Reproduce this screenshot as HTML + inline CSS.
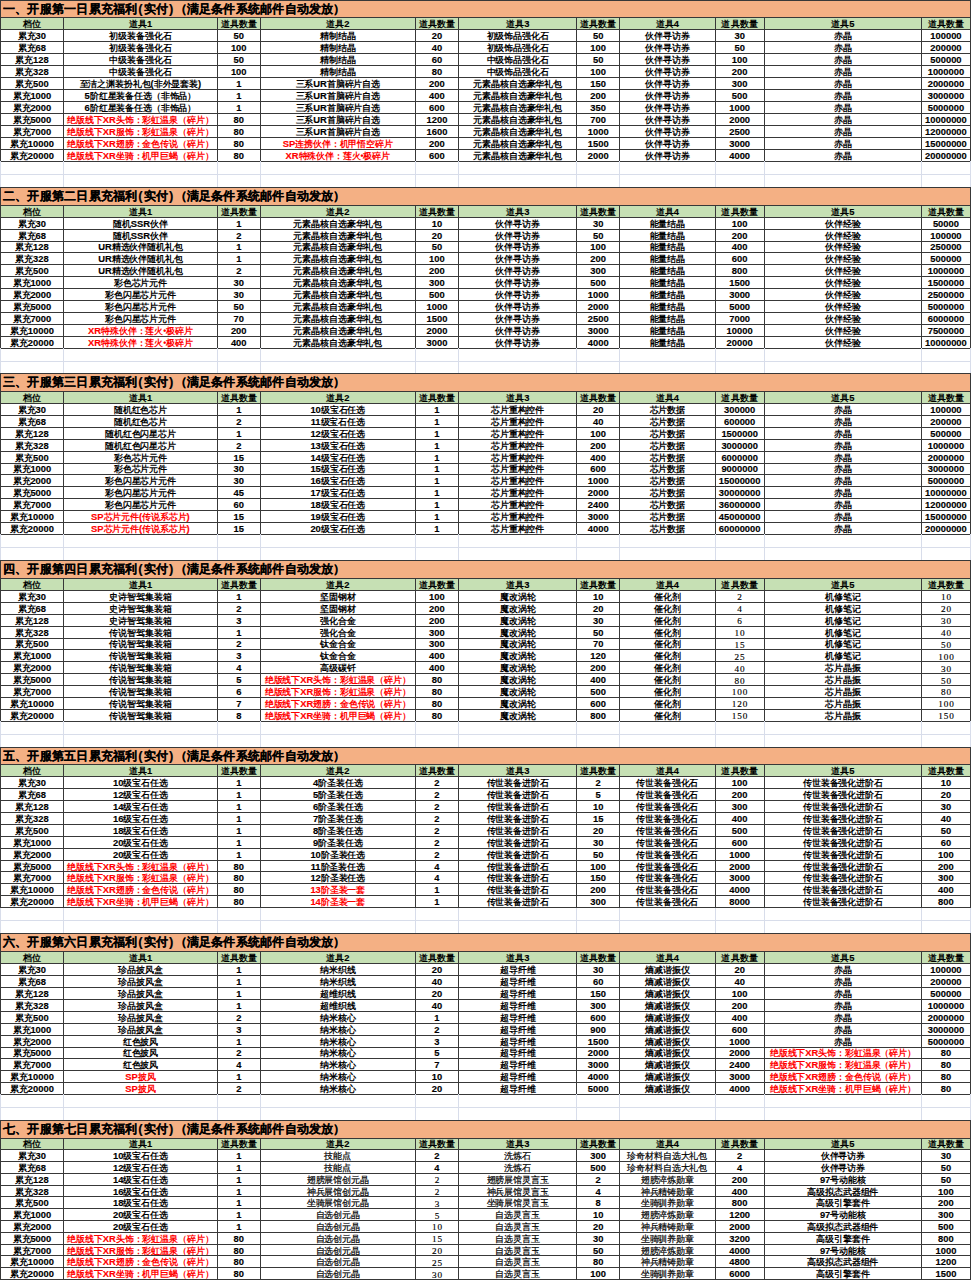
<!DOCTYPE html>
<html><head><meta charset="utf-8"><style>
html,body{margin:0;padding:0;background:#fff;}
#wrap{position:relative;width:971px;height:1280px;overflow:hidden;font-family:"Liberation Sans",sans-serif;}
.title{position:absolute;left:0;width:971px;background:#F4B084;font-weight:bold;font-size:12px;letter-spacing:0.22px;color:#000;white-space:nowrap;}
.title span{position:absolute;left:3.0px;height:0;line-height:0;-webkit-text-stroke:0.15px #000;}
.title b{padding:0 0.9px;font-size:13px;}
.hbg{position:absolute;left:0;width:971px;background:#C6E0B4;}
.c{position:absolute;height:0;line-height:0;text-align:center;white-space:nowrap;font-weight:bold;font-size:8.6px;letter-spacing:-0.13px;color:#000;}
.c.h{letter-spacing:0.1px;}
.c i{font-style:normal;font-size:9.4px;letter-spacing:0;-webkit-text-stroke:0.15px currentColor;}
.c.r{color:#FF0000;}
.c.s{font-family:"Liberation Serif",serif;font-weight:normal;font-size:9.2px;letter-spacing:0.9px;text-indent:0.9px;-webkit-text-stroke:0.15px #000;}
.hl{position:absolute;left:0;width:971px;height:1px;background:#383838;}
.gl{position:absolute;left:0;width:971px;height:1px;background:#D8DDEA;}
.vl{position:absolute;width:1px;background:#383838;}
.vg{position:absolute;width:1px;background:#D8DDEA;}
.c.n{font-weight:normal;-webkit-text-stroke:0.2px currentColor;}

</style></head><body>
<div id="wrap">
<div class="title" style="top:0.00px;height:17.30px"><span style="top:8.65px">一、开服第一日累充福利<b>(</b>实付<b>)</b>（满足条件系统邮件自动发放）</span></div>
<div class="hbg" style="top:17.30px;height:11.95px"></div>
<div class="c h" style="left:0.50px;width:62.90px;top:24.07px">档位</div>
<div class="c h" style="left:63.40px;width:154.00px;top:24.07px">道具<i>1</i></div>
<div class="c h" style="left:217.40px;width:42.70px;top:24.07px">道具数量</div>
<div class="c h" style="left:260.10px;width:155.40px;top:24.07px">道具<i>2</i></div>
<div class="c h" style="left:415.50px;width:42.90px;top:24.07px">道具数量</div>
<div class="c h" style="left:458.40px;width:118.50px;top:24.07px">道具<i>3</i></div>
<div class="c h" style="left:576.90px;width:42.60px;top:24.07px">道具数量</div>
<div class="c h" style="left:619.50px;width:95.60px;top:24.07px">道具<i>4</i></div>
<div class="c h" style="left:715.10px;width:49.10px;top:24.07px">道具数量</div>
<div class="c h" style="left:764.20px;width:157.30px;top:24.07px">道具<i>5</i></div>
<div class="c h" style="left:921.50px;width:48.90px;top:24.07px">道具数量</div>
<div class="c" style="left:0.50px;width:62.90px;top:36.02px">累充<i>30</i></div>
<div class="c" style="left:63.40px;width:154.00px;top:36.02px">初级装备强化石</div>
<div class="c" style="left:217.40px;width:42.70px;top:36.02px"><i>50</i></div>
<div class="c" style="left:260.10px;width:155.40px;top:36.02px">精制结晶</div>
<div class="c" style="left:415.50px;width:42.90px;top:36.02px"><i>20</i></div>
<div class="c" style="left:458.40px;width:118.50px;top:36.02px">初级饰品强化石</div>
<div class="c" style="left:576.90px;width:42.60px;top:36.02px"><i>50</i></div>
<div class="c" style="left:619.50px;width:95.60px;top:36.02px">伙伴寻访券</div>
<div class="c" style="left:715.10px;width:49.10px;top:36.02px"><i>30</i></div>
<div class="c" style="left:764.20px;width:157.30px;top:36.02px">赤晶</div>
<div class="c" style="left:921.50px;width:48.90px;top:36.02px"><i>100000</i></div>
<div class="c" style="left:0.50px;width:62.90px;top:47.97px">累充<i>68</i></div>
<div class="c" style="left:63.40px;width:154.00px;top:47.97px">初级装备强化石</div>
<div class="c" style="left:217.40px;width:42.70px;top:47.97px"><i>100</i></div>
<div class="c" style="left:260.10px;width:155.40px;top:47.97px">精制结晶</div>
<div class="c" style="left:415.50px;width:42.90px;top:47.97px"><i>40</i></div>
<div class="c" style="left:458.40px;width:118.50px;top:47.97px">初级饰品强化石</div>
<div class="c" style="left:576.90px;width:42.60px;top:47.97px"><i>100</i></div>
<div class="c" style="left:619.50px;width:95.60px;top:47.97px">伙伴寻访券</div>
<div class="c" style="left:715.10px;width:49.10px;top:47.97px"><i>50</i></div>
<div class="c" style="left:764.20px;width:157.30px;top:47.97px">赤晶</div>
<div class="c" style="left:921.50px;width:48.90px;top:47.97px"><i>200000</i></div>
<div class="c" style="left:0.50px;width:62.90px;top:59.92px">累充<i>128</i></div>
<div class="c" style="left:63.40px;width:154.00px;top:59.92px">中级装备强化石</div>
<div class="c" style="left:217.40px;width:42.70px;top:59.92px"><i>50</i></div>
<div class="c" style="left:260.10px;width:155.40px;top:59.92px">精制结晶</div>
<div class="c" style="left:415.50px;width:42.90px;top:59.92px"><i>60</i></div>
<div class="c" style="left:458.40px;width:118.50px;top:59.92px">中级饰品强化石</div>
<div class="c" style="left:576.90px;width:42.60px;top:59.92px"><i>50</i></div>
<div class="c" style="left:619.50px;width:95.60px;top:59.92px">伙伴寻访券</div>
<div class="c" style="left:715.10px;width:49.10px;top:59.92px"><i>100</i></div>
<div class="c" style="left:764.20px;width:157.30px;top:59.92px">赤晶</div>
<div class="c" style="left:921.50px;width:48.90px;top:59.92px"><i>500000</i></div>
<div class="c" style="left:0.50px;width:62.90px;top:71.87px">累充<i>328</i></div>
<div class="c" style="left:63.40px;width:154.00px;top:71.87px">中级装备强化石</div>
<div class="c" style="left:217.40px;width:42.70px;top:71.87px"><i>100</i></div>
<div class="c" style="left:260.10px;width:155.40px;top:71.87px">精制结晶</div>
<div class="c" style="left:415.50px;width:42.90px;top:71.87px"><i>80</i></div>
<div class="c" style="left:458.40px;width:118.50px;top:71.87px">中级饰品强化石</div>
<div class="c" style="left:576.90px;width:42.60px;top:71.87px"><i>100</i></div>
<div class="c" style="left:619.50px;width:95.60px;top:71.87px">伙伴寻访券</div>
<div class="c" style="left:715.10px;width:49.10px;top:71.87px"><i>200</i></div>
<div class="c" style="left:764.20px;width:157.30px;top:71.87px">赤晶</div>
<div class="c" style="left:921.50px;width:48.90px;top:71.87px"><i>1000000</i></div>
<div class="c" style="left:0.50px;width:62.90px;top:83.82px">累充<i>500</i></div>
<div class="c" style="left:63.40px;width:154.00px;top:83.82px">至洁之渊装扮礼包<i>(</i>非外显套装<i>)</i></div>
<div class="c" style="left:217.40px;width:42.70px;top:83.82px"><i>1</i></div>
<div class="c" style="left:260.10px;width:155.40px;top:83.82px">三系<i>UR</i>首脑碎片自选</div>
<div class="c" style="left:415.50px;width:42.90px;top:83.82px"><i>200</i></div>
<div class="c" style="left:458.40px;width:118.50px;top:83.82px">元素晶核自选豪华礼包</div>
<div class="c" style="left:576.90px;width:42.60px;top:83.82px"><i>150</i></div>
<div class="c" style="left:619.50px;width:95.60px;top:83.82px">伙伴寻访券</div>
<div class="c" style="left:715.10px;width:49.10px;top:83.82px"><i>300</i></div>
<div class="c" style="left:764.20px;width:157.30px;top:83.82px">赤晶</div>
<div class="c" style="left:921.50px;width:48.90px;top:83.82px"><i>2000000</i></div>
<div class="c" style="left:0.50px;width:62.90px;top:95.77px">累充<i>1000</i></div>
<div class="c" style="left:63.40px;width:154.00px;top:95.77px"><i>5</i>阶红星装备任选（非饰品）</div>
<div class="c" style="left:217.40px;width:42.70px;top:95.77px"><i>1</i></div>
<div class="c" style="left:260.10px;width:155.40px;top:95.77px">三系<i>UR</i>首脑碎片自选</div>
<div class="c" style="left:415.50px;width:42.90px;top:95.77px"><i>400</i></div>
<div class="c" style="left:458.40px;width:118.50px;top:95.77px">元素晶核自选豪华礼包</div>
<div class="c" style="left:576.90px;width:42.60px;top:95.77px"><i>200</i></div>
<div class="c" style="left:619.50px;width:95.60px;top:95.77px">伙伴寻访券</div>
<div class="c" style="left:715.10px;width:49.10px;top:95.77px"><i>500</i></div>
<div class="c" style="left:764.20px;width:157.30px;top:95.77px">赤晶</div>
<div class="c" style="left:921.50px;width:48.90px;top:95.77px"><i>3000000</i></div>
<div class="c" style="left:0.50px;width:62.90px;top:107.72px">累充<i>2000</i></div>
<div class="c" style="left:63.40px;width:154.00px;top:107.72px"><i>6</i>阶红星装备任选（非饰品）</div>
<div class="c" style="left:217.40px;width:42.70px;top:107.72px"><i>1</i></div>
<div class="c" style="left:260.10px;width:155.40px;top:107.72px">三系<i>UR</i>首脑碎片自选</div>
<div class="c" style="left:415.50px;width:42.90px;top:107.72px"><i>600</i></div>
<div class="c" style="left:458.40px;width:118.50px;top:107.72px">元素晶核自选豪华礼包</div>
<div class="c" style="left:576.90px;width:42.60px;top:107.72px"><i>350</i></div>
<div class="c" style="left:619.50px;width:95.60px;top:107.72px">伙伴寻访券</div>
<div class="c" style="left:715.10px;width:49.10px;top:107.72px"><i>1000</i></div>
<div class="c" style="left:764.20px;width:157.30px;top:107.72px">赤晶</div>
<div class="c" style="left:921.50px;width:48.90px;top:107.72px"><i>5000000</i></div>
<div class="c" style="left:0.50px;width:62.90px;top:119.67px">累充<i>5000</i></div>
<div class="c r" style="left:63.40px;width:154.00px;top:119.67px">绝版线下<i>XR</i>头饰：彩虹温泉（碎片）</div>
<div class="c" style="left:217.40px;width:42.70px;top:119.67px"><i>80</i></div>
<div class="c" style="left:260.10px;width:155.40px;top:119.67px">三系<i>UR</i>首脑碎片自选</div>
<div class="c" style="left:415.50px;width:42.90px;top:119.67px"><i>1200</i></div>
<div class="c" style="left:458.40px;width:118.50px;top:119.67px">元素晶核自选豪华礼包</div>
<div class="c" style="left:576.90px;width:42.60px;top:119.67px"><i>700</i></div>
<div class="c" style="left:619.50px;width:95.60px;top:119.67px">伙伴寻访券</div>
<div class="c" style="left:715.10px;width:49.10px;top:119.67px"><i>2000</i></div>
<div class="c" style="left:764.20px;width:157.30px;top:119.67px">赤晶</div>
<div class="c" style="left:921.50px;width:48.90px;top:119.67px"><i>10000000</i></div>
<div class="c" style="left:0.50px;width:62.90px;top:131.62px">累充<i>7000</i></div>
<div class="c r" style="left:63.40px;width:154.00px;top:131.62px">绝版线下<i>XR</i>服饰：彩虹温泉（碎片）</div>
<div class="c" style="left:217.40px;width:42.70px;top:131.62px"><i>80</i></div>
<div class="c" style="left:260.10px;width:155.40px;top:131.62px">三系<i>UR</i>首脑碎片自选</div>
<div class="c" style="left:415.50px;width:42.90px;top:131.62px"><i>1600</i></div>
<div class="c" style="left:458.40px;width:118.50px;top:131.62px">元素晶核自选豪华礼包</div>
<div class="c" style="left:576.90px;width:42.60px;top:131.62px"><i>1000</i></div>
<div class="c" style="left:619.50px;width:95.60px;top:131.62px">伙伴寻访券</div>
<div class="c" style="left:715.10px;width:49.10px;top:131.62px"><i>2500</i></div>
<div class="c" style="left:764.20px;width:157.30px;top:131.62px">赤晶</div>
<div class="c" style="left:921.50px;width:48.90px;top:131.62px"><i>12000000</i></div>
<div class="c" style="left:0.50px;width:62.90px;top:143.57px">累充<i>10000</i></div>
<div class="c r" style="left:63.40px;width:154.00px;top:143.57px">绝版线下<i>XR</i>翅膀：金色传说（碎片）</div>
<div class="c" style="left:217.40px;width:42.70px;top:143.57px"><i>80</i></div>
<div class="c r" style="left:260.10px;width:155.40px;top:143.57px"><i>SP</i>连携伙伴：机甲悟空碎片</div>
<div class="c" style="left:415.50px;width:42.90px;top:143.57px"><i>200</i></div>
<div class="c" style="left:458.40px;width:118.50px;top:143.57px">元素晶核自选豪华礼包</div>
<div class="c" style="left:576.90px;width:42.60px;top:143.57px"><i>1500</i></div>
<div class="c" style="left:619.50px;width:95.60px;top:143.57px">伙伴寻访券</div>
<div class="c" style="left:715.10px;width:49.10px;top:143.57px"><i>3000</i></div>
<div class="c" style="left:764.20px;width:157.30px;top:143.57px">赤晶</div>
<div class="c" style="left:921.50px;width:48.90px;top:143.57px"><i>15000000</i></div>
<div class="c" style="left:0.50px;width:62.90px;top:155.52px">累充<i>20000</i></div>
<div class="c r" style="left:63.40px;width:154.00px;top:155.52px">绝版线下<i>XR</i>坐骑：机甲巨蝎（碎片）</div>
<div class="c" style="left:217.40px;width:42.70px;top:155.52px"><i>80</i></div>
<div class="c r" style="left:260.10px;width:155.40px;top:155.52px"><i>XR</i>特殊伙伴：莲火•极碎片</div>
<div class="c" style="left:415.50px;width:42.90px;top:155.52px"><i>600</i></div>
<div class="c" style="left:458.40px;width:118.50px;top:155.52px">元素晶核自选豪华礼包</div>
<div class="c" style="left:576.90px;width:42.60px;top:155.52px"><i>2000</i></div>
<div class="c" style="left:619.50px;width:95.60px;top:155.52px">伙伴寻访券</div>
<div class="c" style="left:715.10px;width:49.10px;top:155.52px"><i>4000</i></div>
<div class="c" style="left:764.20px;width:157.30px;top:155.52px">赤晶</div>
<div class="c" style="left:921.50px;width:48.90px;top:155.52px"><i>20000000</i></div>
<div class="hl" style="top:-0.20px"></div>
<div class="hl" style="top:17.10px"></div>
<div class="hl" style="top:29.05px"></div>
<div class="hl" style="top:41.00px"></div>
<div class="hl" style="top:52.95px"></div>
<div class="hl" style="top:64.90px"></div>
<div class="hl" style="top:76.85px"></div>
<div class="hl" style="top:88.80px"></div>
<div class="hl" style="top:100.75px"></div>
<div class="hl" style="top:112.70px"></div>
<div class="hl" style="top:124.65px"></div>
<div class="hl" style="top:136.60px"></div>
<div class="hl" style="top:148.55px"></div>
<div class="hl" style="top:160.50px"></div>
<div class="gl" style="top:174.30px"></div>
<div class="vl" style="left:0.00px;top:17.30px;height:143.40px"></div>
<div class="vg" style="left:0.00px;top:160.70px;height:26.60px"></div>
<div class="vl" style="left:62.90px;top:17.30px;height:143.40px"></div>
<div class="vg" style="left:62.90px;top:160.70px;height:26.60px"></div>
<div class="vl" style="left:216.90px;top:17.30px;height:143.40px"></div>
<div class="vg" style="left:216.90px;top:160.70px;height:26.60px"></div>
<div class="vl" style="left:259.60px;top:17.30px;height:143.40px"></div>
<div class="vg" style="left:259.60px;top:160.70px;height:26.60px"></div>
<div class="vl" style="left:415.00px;top:17.30px;height:143.40px"></div>
<div class="vg" style="left:415.00px;top:160.70px;height:26.60px"></div>
<div class="vl" style="left:457.90px;top:17.30px;height:143.40px"></div>
<div class="vg" style="left:457.90px;top:160.70px;height:26.60px"></div>
<div class="vl" style="left:576.40px;top:17.30px;height:143.40px"></div>
<div class="vg" style="left:576.40px;top:160.70px;height:26.60px"></div>
<div class="vl" style="left:619.00px;top:17.30px;height:143.40px"></div>
<div class="vg" style="left:619.00px;top:160.70px;height:26.60px"></div>
<div class="vl" style="left:714.60px;top:17.30px;height:143.40px"></div>
<div class="vg" style="left:714.60px;top:160.70px;height:26.60px"></div>
<div class="vl" style="left:763.70px;top:17.30px;height:143.40px"></div>
<div class="vg" style="left:763.70px;top:160.70px;height:26.60px"></div>
<div class="vl" style="left:921.00px;top:17.30px;height:143.40px"></div>
<div class="vg" style="left:921.00px;top:160.70px;height:26.60px"></div>
<div class="vl" style="left:969.90px;top:17.30px;height:143.40px"></div>
<div class="vg" style="left:969.90px;top:160.70px;height:26.60px"></div>
<div class="vl" style="left:0px;top:0.00px;height:17.30px"></div>
<div class="vl" style="left:969.90px;top:0.00px;height:17.30px"></div>
<div class="title" style="top:187.30px;height:17.70px"><span style="top:8.85px">二、开服第二日累充福利<b>(</b>实付<b>)</b>（满足条件系统邮件自动发放）</span></div>
<div class="hbg" style="top:205.00px;height:11.90px"></div>
<div class="c h" style="left:0.50px;width:62.90px;top:211.75px">档位</div>
<div class="c h" style="left:63.40px;width:154.00px;top:211.75px">道具<i>1</i></div>
<div class="c h" style="left:217.40px;width:42.70px;top:211.75px">道具数量</div>
<div class="c h" style="left:260.10px;width:155.40px;top:211.75px">道具<i>2</i></div>
<div class="c h" style="left:415.50px;width:42.90px;top:211.75px">道具数量</div>
<div class="c h" style="left:458.40px;width:118.50px;top:211.75px">道具<i>3</i></div>
<div class="c h" style="left:576.90px;width:42.60px;top:211.75px">道具数量</div>
<div class="c h" style="left:619.50px;width:95.60px;top:211.75px">道具<i>4</i></div>
<div class="c h" style="left:715.10px;width:49.10px;top:211.75px">道具数量</div>
<div class="c h" style="left:764.20px;width:157.30px;top:211.75px">道具<i>5</i></div>
<div class="c h" style="left:921.50px;width:48.90px;top:211.75px">道具数量</div>
<div class="c" style="left:0.50px;width:62.90px;top:223.65px">累充<i>30</i></div>
<div class="c" style="left:63.40px;width:154.00px;top:223.65px">随机<i>SSR</i>伙伴</div>
<div class="c" style="left:217.40px;width:42.70px;top:223.65px"><i>1</i></div>
<div class="c" style="left:260.10px;width:155.40px;top:223.65px">元素晶核自选豪华礼包</div>
<div class="c" style="left:415.50px;width:42.90px;top:223.65px"><i>10</i></div>
<div class="c" style="left:458.40px;width:118.50px;top:223.65px">伙伴寻访券</div>
<div class="c" style="left:576.90px;width:42.60px;top:223.65px"><i>30</i></div>
<div class="c" style="left:619.50px;width:95.60px;top:223.65px">能量结晶</div>
<div class="c" style="left:715.10px;width:49.10px;top:223.65px"><i>100</i></div>
<div class="c" style="left:764.20px;width:157.30px;top:223.65px">伙伴经验</div>
<div class="c" style="left:921.50px;width:48.90px;top:223.65px"><i>50000</i></div>
<div class="c" style="left:0.50px;width:62.90px;top:235.55px">累充<i>68</i></div>
<div class="c" style="left:63.40px;width:154.00px;top:235.55px">随机<i>SSR</i>伙伴</div>
<div class="c" style="left:217.40px;width:42.70px;top:235.55px"><i>2</i></div>
<div class="c" style="left:260.10px;width:155.40px;top:235.55px">元素晶核自选豪华礼包</div>
<div class="c" style="left:415.50px;width:42.90px;top:235.55px"><i>20</i></div>
<div class="c" style="left:458.40px;width:118.50px;top:235.55px">伙伴寻访券</div>
<div class="c" style="left:576.90px;width:42.60px;top:235.55px"><i>50</i></div>
<div class="c" style="left:619.50px;width:95.60px;top:235.55px">能量结晶</div>
<div class="c" style="left:715.10px;width:49.10px;top:235.55px"><i>200</i></div>
<div class="c" style="left:764.20px;width:157.30px;top:235.55px">伙伴经验</div>
<div class="c" style="left:921.50px;width:48.90px;top:235.55px"><i>100000</i></div>
<div class="c" style="left:0.50px;width:62.90px;top:247.45px">累充<i>128</i></div>
<div class="c" style="left:63.40px;width:154.00px;top:247.45px"><i>UR</i>精选伙伴随机礼包</div>
<div class="c" style="left:217.40px;width:42.70px;top:247.45px"><i>1</i></div>
<div class="c" style="left:260.10px;width:155.40px;top:247.45px">元素晶核自选豪华礼包</div>
<div class="c" style="left:415.50px;width:42.90px;top:247.45px"><i>50</i></div>
<div class="c" style="left:458.40px;width:118.50px;top:247.45px">伙伴寻访券</div>
<div class="c" style="left:576.90px;width:42.60px;top:247.45px"><i>100</i></div>
<div class="c" style="left:619.50px;width:95.60px;top:247.45px">能量结晶</div>
<div class="c" style="left:715.10px;width:49.10px;top:247.45px"><i>400</i></div>
<div class="c" style="left:764.20px;width:157.30px;top:247.45px">伙伴经验</div>
<div class="c" style="left:921.50px;width:48.90px;top:247.45px"><i>250000</i></div>
<div class="c" style="left:0.50px;width:62.90px;top:259.35px">累充<i>328</i></div>
<div class="c" style="left:63.40px;width:154.00px;top:259.35px"><i>UR</i>精选伙伴随机礼包</div>
<div class="c" style="left:217.40px;width:42.70px;top:259.35px"><i>1</i></div>
<div class="c" style="left:260.10px;width:155.40px;top:259.35px">元素晶核自选豪华礼包</div>
<div class="c" style="left:415.50px;width:42.90px;top:259.35px"><i>100</i></div>
<div class="c" style="left:458.40px;width:118.50px;top:259.35px">伙伴寻访券</div>
<div class="c" style="left:576.90px;width:42.60px;top:259.35px"><i>200</i></div>
<div class="c" style="left:619.50px;width:95.60px;top:259.35px">能量结晶</div>
<div class="c" style="left:715.10px;width:49.10px;top:259.35px"><i>600</i></div>
<div class="c" style="left:764.20px;width:157.30px;top:259.35px">伙伴经验</div>
<div class="c" style="left:921.50px;width:48.90px;top:259.35px"><i>500000</i></div>
<div class="c" style="left:0.50px;width:62.90px;top:271.25px">累充<i>500</i></div>
<div class="c" style="left:63.40px;width:154.00px;top:271.25px"><i>UR</i>精选伙伴随机礼包</div>
<div class="c" style="left:217.40px;width:42.70px;top:271.25px"><i>2</i></div>
<div class="c" style="left:260.10px;width:155.40px;top:271.25px">元素晶核自选豪华礼包</div>
<div class="c" style="left:415.50px;width:42.90px;top:271.25px"><i>200</i></div>
<div class="c" style="left:458.40px;width:118.50px;top:271.25px">伙伴寻访券</div>
<div class="c" style="left:576.90px;width:42.60px;top:271.25px"><i>300</i></div>
<div class="c" style="left:619.50px;width:95.60px;top:271.25px">能量结晶</div>
<div class="c" style="left:715.10px;width:49.10px;top:271.25px"><i>800</i></div>
<div class="c" style="left:764.20px;width:157.30px;top:271.25px">伙伴经验</div>
<div class="c" style="left:921.50px;width:48.90px;top:271.25px"><i>1000000</i></div>
<div class="c" style="left:0.50px;width:62.90px;top:283.15px">累充<i>1000</i></div>
<div class="c" style="left:63.40px;width:154.00px;top:283.15px">彩色芯片元件</div>
<div class="c" style="left:217.40px;width:42.70px;top:283.15px"><i>30</i></div>
<div class="c" style="left:260.10px;width:155.40px;top:283.15px">元素晶核自选豪华礼包</div>
<div class="c" style="left:415.50px;width:42.90px;top:283.15px"><i>300</i></div>
<div class="c" style="left:458.40px;width:118.50px;top:283.15px">伙伴寻访券</div>
<div class="c" style="left:576.90px;width:42.60px;top:283.15px"><i>500</i></div>
<div class="c" style="left:619.50px;width:95.60px;top:283.15px">能量结晶</div>
<div class="c" style="left:715.10px;width:49.10px;top:283.15px"><i>1500</i></div>
<div class="c" style="left:764.20px;width:157.30px;top:283.15px">伙伴经验</div>
<div class="c" style="left:921.50px;width:48.90px;top:283.15px"><i>1500000</i></div>
<div class="c" style="left:0.50px;width:62.90px;top:295.05px">累充<i>2000</i></div>
<div class="c" style="left:63.40px;width:154.00px;top:295.05px">彩色闪星芯片元件</div>
<div class="c" style="left:217.40px;width:42.70px;top:295.05px"><i>30</i></div>
<div class="c" style="left:260.10px;width:155.40px;top:295.05px">元素晶核自选豪华礼包</div>
<div class="c" style="left:415.50px;width:42.90px;top:295.05px"><i>500</i></div>
<div class="c" style="left:458.40px;width:118.50px;top:295.05px">伙伴寻访券</div>
<div class="c" style="left:576.90px;width:42.60px;top:295.05px"><i>1000</i></div>
<div class="c" style="left:619.50px;width:95.60px;top:295.05px">能量结晶</div>
<div class="c" style="left:715.10px;width:49.10px;top:295.05px"><i>3000</i></div>
<div class="c" style="left:764.20px;width:157.30px;top:295.05px">伙伴经验</div>
<div class="c" style="left:921.50px;width:48.90px;top:295.05px"><i>2500000</i></div>
<div class="c" style="left:0.50px;width:62.90px;top:306.95px">累充<i>5000</i></div>
<div class="c" style="left:63.40px;width:154.00px;top:306.95px">彩色闪星芯片元件</div>
<div class="c" style="left:217.40px;width:42.70px;top:306.95px"><i>50</i></div>
<div class="c" style="left:260.10px;width:155.40px;top:306.95px">元素晶核自选豪华礼包</div>
<div class="c" style="left:415.50px;width:42.90px;top:306.95px"><i>1000</i></div>
<div class="c" style="left:458.40px;width:118.50px;top:306.95px">伙伴寻访券</div>
<div class="c" style="left:576.90px;width:42.60px;top:306.95px"><i>2000</i></div>
<div class="c" style="left:619.50px;width:95.60px;top:306.95px">能量结晶</div>
<div class="c" style="left:715.10px;width:49.10px;top:306.95px"><i>5000</i></div>
<div class="c" style="left:764.20px;width:157.30px;top:306.95px">伙伴经验</div>
<div class="c" style="left:921.50px;width:48.90px;top:306.95px"><i>5000000</i></div>
<div class="c" style="left:0.50px;width:62.90px;top:318.85px">累充<i>7000</i></div>
<div class="c" style="left:63.40px;width:154.00px;top:318.85px">彩色闪星芯片元件</div>
<div class="c" style="left:217.40px;width:42.70px;top:318.85px"><i>70</i></div>
<div class="c" style="left:260.10px;width:155.40px;top:318.85px">元素晶核自选豪华礼包</div>
<div class="c" style="left:415.50px;width:42.90px;top:318.85px"><i>1500</i></div>
<div class="c" style="left:458.40px;width:118.50px;top:318.85px">伙伴寻访券</div>
<div class="c" style="left:576.90px;width:42.60px;top:318.85px"><i>2500</i></div>
<div class="c" style="left:619.50px;width:95.60px;top:318.85px">能量结晶</div>
<div class="c" style="left:715.10px;width:49.10px;top:318.85px"><i>7000</i></div>
<div class="c" style="left:764.20px;width:157.30px;top:318.85px">伙伴经验</div>
<div class="c" style="left:921.50px;width:48.90px;top:318.85px"><i>6000000</i></div>
<div class="c" style="left:0.50px;width:62.90px;top:330.75px">累充<i>10000</i></div>
<div class="c r" style="left:63.40px;width:154.00px;top:330.75px"><i>XR</i>特殊伙伴：莲火•极碎片</div>
<div class="c" style="left:217.40px;width:42.70px;top:330.75px"><i>200</i></div>
<div class="c" style="left:260.10px;width:155.40px;top:330.75px">元素晶核自选豪华礼包</div>
<div class="c" style="left:415.50px;width:42.90px;top:330.75px"><i>2000</i></div>
<div class="c" style="left:458.40px;width:118.50px;top:330.75px">伙伴寻访券</div>
<div class="c" style="left:576.90px;width:42.60px;top:330.75px"><i>3000</i></div>
<div class="c" style="left:619.50px;width:95.60px;top:330.75px">能量结晶</div>
<div class="c" style="left:715.10px;width:49.10px;top:330.75px"><i>10000</i></div>
<div class="c" style="left:764.20px;width:157.30px;top:330.75px">伙伴经验</div>
<div class="c" style="left:921.50px;width:48.90px;top:330.75px"><i>7500000</i></div>
<div class="c" style="left:0.50px;width:62.90px;top:342.65px">累充<i>20000</i></div>
<div class="c r" style="left:63.40px;width:154.00px;top:342.65px"><i>XR</i>特殊伙伴：莲火•极碎片</div>
<div class="c" style="left:217.40px;width:42.70px;top:342.65px"><i>400</i></div>
<div class="c" style="left:260.10px;width:155.40px;top:342.65px">元素晶核自选豪华礼包</div>
<div class="c" style="left:415.50px;width:42.90px;top:342.65px"><i>3000</i></div>
<div class="c" style="left:458.40px;width:118.50px;top:342.65px">伙伴寻访券</div>
<div class="c" style="left:576.90px;width:42.60px;top:342.65px"><i>4000</i></div>
<div class="c" style="left:619.50px;width:95.60px;top:342.65px">能量结晶</div>
<div class="c" style="left:715.10px;width:49.10px;top:342.65px"><i>20000</i></div>
<div class="c" style="left:764.20px;width:157.30px;top:342.65px">伙伴经验</div>
<div class="c" style="left:921.50px;width:48.90px;top:342.65px"><i>10000000</i></div>
<div class="hl" style="top:187.10px"></div>
<div class="hl" style="top:204.80px"></div>
<div class="hl" style="top:216.70px"></div>
<div class="hl" style="top:228.60px"></div>
<div class="hl" style="top:240.50px"></div>
<div class="hl" style="top:252.40px"></div>
<div class="hl" style="top:264.30px"></div>
<div class="hl" style="top:276.20px"></div>
<div class="hl" style="top:288.10px"></div>
<div class="hl" style="top:300.00px"></div>
<div class="hl" style="top:311.90px"></div>
<div class="hl" style="top:323.80px"></div>
<div class="hl" style="top:335.70px"></div>
<div class="hl" style="top:347.60px"></div>
<div class="gl" style="top:360.70px"></div>
<div class="vl" style="left:0.00px;top:205.00px;height:142.80px"></div>
<div class="vg" style="left:0.00px;top:347.80px;height:25.60px"></div>
<div class="vl" style="left:62.90px;top:205.00px;height:142.80px"></div>
<div class="vg" style="left:62.90px;top:347.80px;height:25.60px"></div>
<div class="vl" style="left:216.90px;top:205.00px;height:142.80px"></div>
<div class="vg" style="left:216.90px;top:347.80px;height:25.60px"></div>
<div class="vl" style="left:259.60px;top:205.00px;height:142.80px"></div>
<div class="vg" style="left:259.60px;top:347.80px;height:25.60px"></div>
<div class="vl" style="left:415.00px;top:205.00px;height:142.80px"></div>
<div class="vg" style="left:415.00px;top:347.80px;height:25.60px"></div>
<div class="vl" style="left:457.90px;top:205.00px;height:142.80px"></div>
<div class="vg" style="left:457.90px;top:347.80px;height:25.60px"></div>
<div class="vl" style="left:576.40px;top:205.00px;height:142.80px"></div>
<div class="vg" style="left:576.40px;top:347.80px;height:25.60px"></div>
<div class="vl" style="left:619.00px;top:205.00px;height:142.80px"></div>
<div class="vg" style="left:619.00px;top:347.80px;height:25.60px"></div>
<div class="vl" style="left:714.60px;top:205.00px;height:142.80px"></div>
<div class="vg" style="left:714.60px;top:347.80px;height:25.60px"></div>
<div class="vl" style="left:763.70px;top:205.00px;height:142.80px"></div>
<div class="vg" style="left:763.70px;top:347.80px;height:25.60px"></div>
<div class="vl" style="left:921.00px;top:205.00px;height:142.80px"></div>
<div class="vg" style="left:921.00px;top:347.80px;height:25.60px"></div>
<div class="vl" style="left:969.90px;top:205.00px;height:142.80px"></div>
<div class="vg" style="left:969.90px;top:347.80px;height:25.60px"></div>
<div class="vl" style="left:0px;top:187.30px;height:17.70px"></div>
<div class="vl" style="left:969.90px;top:187.30px;height:17.70px"></div>
<div class="title" style="top:373.40px;height:17.60px"><span style="top:8.80px">三、开服第三日累充福利<b>(</b>实付<b>)</b>（满足条件系统邮件自动发放）</span></div>
<div class="hbg" style="top:391.00px;height:11.95px"></div>
<div class="c h" style="left:0.50px;width:62.90px;top:397.78px">档位</div>
<div class="c h" style="left:63.40px;width:154.00px;top:397.78px">道具<i>1</i></div>
<div class="c h" style="left:217.40px;width:42.70px;top:397.78px">道具数量</div>
<div class="c h" style="left:260.10px;width:155.40px;top:397.78px">道具<i>2</i></div>
<div class="c h" style="left:415.50px;width:42.90px;top:397.78px">道具数量</div>
<div class="c h" style="left:458.40px;width:118.50px;top:397.78px">道具<i>3</i></div>
<div class="c h" style="left:576.90px;width:42.60px;top:397.78px">道具数量</div>
<div class="c h" style="left:619.50px;width:95.60px;top:397.78px">道具<i>4</i></div>
<div class="c h" style="left:715.10px;width:49.10px;top:397.78px">道具数量</div>
<div class="c h" style="left:764.20px;width:157.30px;top:397.78px">道具<i>5</i></div>
<div class="c h" style="left:921.50px;width:48.90px;top:397.78px">道具数量</div>
<div class="c" style="left:0.50px;width:62.90px;top:409.73px">累充<i>30</i></div>
<div class="c" style="left:63.40px;width:154.00px;top:409.73px">随机红色芯片</div>
<div class="c" style="left:217.40px;width:42.70px;top:409.73px"><i>1</i></div>
<div class="c" style="left:260.10px;width:155.40px;top:409.73px"><i>10</i>级宝石任选</div>
<div class="c" style="left:415.50px;width:42.90px;top:409.73px"><i>1</i></div>
<div class="c" style="left:458.40px;width:118.50px;top:409.73px">芯片重构控件</div>
<div class="c" style="left:576.90px;width:42.60px;top:409.73px"><i>20</i></div>
<div class="c" style="left:619.50px;width:95.60px;top:409.73px">芯片数据</div>
<div class="c" style="left:715.10px;width:49.10px;top:409.73px"><i>300000</i></div>
<div class="c" style="left:764.20px;width:157.30px;top:409.73px">赤晶</div>
<div class="c" style="left:921.50px;width:48.90px;top:409.73px"><i>100000</i></div>
<div class="c" style="left:0.50px;width:62.90px;top:421.68px">累充<i>68</i></div>
<div class="c" style="left:63.40px;width:154.00px;top:421.68px">随机红色芯片</div>
<div class="c" style="left:217.40px;width:42.70px;top:421.68px"><i>2</i></div>
<div class="c" style="left:260.10px;width:155.40px;top:421.68px"><i>11</i>级宝石任选</div>
<div class="c" style="left:415.50px;width:42.90px;top:421.68px"><i>1</i></div>
<div class="c" style="left:458.40px;width:118.50px;top:421.68px">芯片重构控件</div>
<div class="c" style="left:576.90px;width:42.60px;top:421.68px"><i>40</i></div>
<div class="c" style="left:619.50px;width:95.60px;top:421.68px">芯片数据</div>
<div class="c" style="left:715.10px;width:49.10px;top:421.68px"><i>600000</i></div>
<div class="c" style="left:764.20px;width:157.30px;top:421.68px">赤晶</div>
<div class="c" style="left:921.50px;width:48.90px;top:421.68px"><i>200000</i></div>
<div class="c" style="left:0.50px;width:62.90px;top:433.63px">累充<i>128</i></div>
<div class="c" style="left:63.40px;width:154.00px;top:433.63px">随机红色闪星芯片</div>
<div class="c" style="left:217.40px;width:42.70px;top:433.63px"><i>1</i></div>
<div class="c" style="left:260.10px;width:155.40px;top:433.63px"><i>12</i>级宝石任选</div>
<div class="c" style="left:415.50px;width:42.90px;top:433.63px"><i>1</i></div>
<div class="c" style="left:458.40px;width:118.50px;top:433.63px">芯片重构控件</div>
<div class="c" style="left:576.90px;width:42.60px;top:433.63px"><i>100</i></div>
<div class="c" style="left:619.50px;width:95.60px;top:433.63px">芯片数据</div>
<div class="c" style="left:715.10px;width:49.10px;top:433.63px"><i>1500000</i></div>
<div class="c" style="left:764.20px;width:157.30px;top:433.63px">赤晶</div>
<div class="c" style="left:921.50px;width:48.90px;top:433.63px"><i>500000</i></div>
<div class="c" style="left:0.50px;width:62.90px;top:445.58px">累充<i>328</i></div>
<div class="c" style="left:63.40px;width:154.00px;top:445.58px">随机红色闪星芯片</div>
<div class="c" style="left:217.40px;width:42.70px;top:445.58px"><i>2</i></div>
<div class="c" style="left:260.10px;width:155.40px;top:445.58px"><i>13</i>级宝石任选</div>
<div class="c" style="left:415.50px;width:42.90px;top:445.58px"><i>1</i></div>
<div class="c" style="left:458.40px;width:118.50px;top:445.58px">芯片重构控件</div>
<div class="c" style="left:576.90px;width:42.60px;top:445.58px"><i>200</i></div>
<div class="c" style="left:619.50px;width:95.60px;top:445.58px">芯片数据</div>
<div class="c" style="left:715.10px;width:49.10px;top:445.58px"><i>3000000</i></div>
<div class="c" style="left:764.20px;width:157.30px;top:445.58px">赤晶</div>
<div class="c" style="left:921.50px;width:48.90px;top:445.58px"><i>1000000</i></div>
<div class="c" style="left:0.50px;width:62.90px;top:457.53px">累充<i>500</i></div>
<div class="c" style="left:63.40px;width:154.00px;top:457.53px">彩色芯片元件</div>
<div class="c" style="left:217.40px;width:42.70px;top:457.53px"><i>15</i></div>
<div class="c" style="left:260.10px;width:155.40px;top:457.53px"><i>14</i>级宝石任选</div>
<div class="c" style="left:415.50px;width:42.90px;top:457.53px"><i>1</i></div>
<div class="c" style="left:458.40px;width:118.50px;top:457.53px">芯片重构控件</div>
<div class="c" style="left:576.90px;width:42.60px;top:457.53px"><i>400</i></div>
<div class="c" style="left:619.50px;width:95.60px;top:457.53px">芯片数据</div>
<div class="c" style="left:715.10px;width:49.10px;top:457.53px"><i>6000000</i></div>
<div class="c" style="left:764.20px;width:157.30px;top:457.53px">赤晶</div>
<div class="c" style="left:921.50px;width:48.90px;top:457.53px"><i>2000000</i></div>
<div class="c" style="left:0.50px;width:62.90px;top:469.48px">累充<i>1000</i></div>
<div class="c" style="left:63.40px;width:154.00px;top:469.48px">彩色芯片元件</div>
<div class="c" style="left:217.40px;width:42.70px;top:469.48px"><i>30</i></div>
<div class="c" style="left:260.10px;width:155.40px;top:469.48px"><i>15</i>级宝石任选</div>
<div class="c" style="left:415.50px;width:42.90px;top:469.48px"><i>1</i></div>
<div class="c" style="left:458.40px;width:118.50px;top:469.48px">芯片重构控件</div>
<div class="c" style="left:576.90px;width:42.60px;top:469.48px"><i>600</i></div>
<div class="c" style="left:619.50px;width:95.60px;top:469.48px">芯片数据</div>
<div class="c" style="left:715.10px;width:49.10px;top:469.48px"><i>9000000</i></div>
<div class="c" style="left:764.20px;width:157.30px;top:469.48px">赤晶</div>
<div class="c" style="left:921.50px;width:48.90px;top:469.48px"><i>3000000</i></div>
<div class="c" style="left:0.50px;width:62.90px;top:481.43px">累充<i>2000</i></div>
<div class="c" style="left:63.40px;width:154.00px;top:481.43px">彩色闪星芯片元件</div>
<div class="c" style="left:217.40px;width:42.70px;top:481.43px"><i>30</i></div>
<div class="c" style="left:260.10px;width:155.40px;top:481.43px"><i>16</i>级宝石任选</div>
<div class="c" style="left:415.50px;width:42.90px;top:481.43px"><i>1</i></div>
<div class="c" style="left:458.40px;width:118.50px;top:481.43px">芯片重构控件</div>
<div class="c" style="left:576.90px;width:42.60px;top:481.43px"><i>1000</i></div>
<div class="c" style="left:619.50px;width:95.60px;top:481.43px">芯片数据</div>
<div class="c" style="left:715.10px;width:49.10px;top:481.43px"><i>15000000</i></div>
<div class="c" style="left:764.20px;width:157.30px;top:481.43px">赤晶</div>
<div class="c" style="left:921.50px;width:48.90px;top:481.43px"><i>5000000</i></div>
<div class="c" style="left:0.50px;width:62.90px;top:493.38px">累充<i>5000</i></div>
<div class="c" style="left:63.40px;width:154.00px;top:493.38px">彩色闪星芯片元件</div>
<div class="c" style="left:217.40px;width:42.70px;top:493.38px"><i>45</i></div>
<div class="c" style="left:260.10px;width:155.40px;top:493.38px"><i>17</i>级宝石任选</div>
<div class="c" style="left:415.50px;width:42.90px;top:493.38px"><i>1</i></div>
<div class="c" style="left:458.40px;width:118.50px;top:493.38px">芯片重构控件</div>
<div class="c" style="left:576.90px;width:42.60px;top:493.38px"><i>2000</i></div>
<div class="c" style="left:619.50px;width:95.60px;top:493.38px">芯片数据</div>
<div class="c" style="left:715.10px;width:49.10px;top:493.38px"><i>30000000</i></div>
<div class="c" style="left:764.20px;width:157.30px;top:493.38px">赤晶</div>
<div class="c" style="left:921.50px;width:48.90px;top:493.38px"><i>10000000</i></div>
<div class="c" style="left:0.50px;width:62.90px;top:505.32px">累充<i>7000</i></div>
<div class="c" style="left:63.40px;width:154.00px;top:505.32px">彩色闪星芯片元件</div>
<div class="c" style="left:217.40px;width:42.70px;top:505.32px"><i>60</i></div>
<div class="c" style="left:260.10px;width:155.40px;top:505.32px"><i>18</i>级宝石任选</div>
<div class="c" style="left:415.50px;width:42.90px;top:505.32px"><i>1</i></div>
<div class="c" style="left:458.40px;width:118.50px;top:505.32px">芯片重构控件</div>
<div class="c" style="left:576.90px;width:42.60px;top:505.32px"><i>2400</i></div>
<div class="c" style="left:619.50px;width:95.60px;top:505.32px">芯片数据</div>
<div class="c" style="left:715.10px;width:49.10px;top:505.32px"><i>36000000</i></div>
<div class="c" style="left:764.20px;width:157.30px;top:505.32px">赤晶</div>
<div class="c" style="left:921.50px;width:48.90px;top:505.32px"><i>12000000</i></div>
<div class="c" style="left:0.50px;width:62.90px;top:517.27px">累充<i>10000</i></div>
<div class="c r" style="left:63.40px;width:154.00px;top:517.27px"><i>SP</i>芯片元件<i>(</i>传说系芯片<i>)</i></div>
<div class="c" style="left:217.40px;width:42.70px;top:517.27px"><i>15</i></div>
<div class="c" style="left:260.10px;width:155.40px;top:517.27px"><i>19</i>级宝石任选</div>
<div class="c" style="left:415.50px;width:42.90px;top:517.27px"><i>1</i></div>
<div class="c" style="left:458.40px;width:118.50px;top:517.27px">芯片重构控件</div>
<div class="c" style="left:576.90px;width:42.60px;top:517.27px"><i>3000</i></div>
<div class="c" style="left:619.50px;width:95.60px;top:517.27px">芯片数据</div>
<div class="c" style="left:715.10px;width:49.10px;top:517.27px"><i>45000000</i></div>
<div class="c" style="left:764.20px;width:157.30px;top:517.27px">赤晶</div>
<div class="c" style="left:921.50px;width:48.90px;top:517.27px"><i>15000000</i></div>
<div class="c" style="left:0.50px;width:62.90px;top:529.22px">累充<i>20000</i></div>
<div class="c r" style="left:63.40px;width:154.00px;top:529.22px"><i>SP</i>芯片元件<i>(</i>传说系芯片<i>)</i></div>
<div class="c" style="left:217.40px;width:42.70px;top:529.22px"><i>15</i></div>
<div class="c" style="left:260.10px;width:155.40px;top:529.22px"><i>20</i>级宝石任选</div>
<div class="c" style="left:415.50px;width:42.90px;top:529.22px"><i>1</i></div>
<div class="c" style="left:458.40px;width:118.50px;top:529.22px">芯片重构控件</div>
<div class="c" style="left:576.90px;width:42.60px;top:529.22px"><i>4000</i></div>
<div class="c" style="left:619.50px;width:95.60px;top:529.22px">芯片数据</div>
<div class="c" style="left:715.10px;width:49.10px;top:529.22px"><i>60000000</i></div>
<div class="c" style="left:764.20px;width:157.30px;top:529.22px">赤晶</div>
<div class="c" style="left:921.50px;width:48.90px;top:529.22px"><i>20000000</i></div>
<div class="hl" style="top:373.20px"></div>
<div class="hl" style="top:390.80px"></div>
<div class="hl" style="top:402.75px"></div>
<div class="hl" style="top:414.70px"></div>
<div class="hl" style="top:426.65px"></div>
<div class="hl" style="top:438.60px"></div>
<div class="hl" style="top:450.55px"></div>
<div class="hl" style="top:462.50px"></div>
<div class="hl" style="top:474.45px"></div>
<div class="hl" style="top:486.40px"></div>
<div class="hl" style="top:498.35px"></div>
<div class="hl" style="top:510.30px"></div>
<div class="hl" style="top:522.25px"></div>
<div class="hl" style="top:534.20px"></div>
<div class="gl" style="top:547.10px"></div>
<div class="vl" style="left:0.00px;top:391.00px;height:143.40px"></div>
<div class="vg" style="left:0.00px;top:534.40px;height:25.90px"></div>
<div class="vl" style="left:62.90px;top:391.00px;height:143.40px"></div>
<div class="vg" style="left:62.90px;top:534.40px;height:25.90px"></div>
<div class="vl" style="left:216.90px;top:391.00px;height:143.40px"></div>
<div class="vg" style="left:216.90px;top:534.40px;height:25.90px"></div>
<div class="vl" style="left:259.60px;top:391.00px;height:143.40px"></div>
<div class="vg" style="left:259.60px;top:534.40px;height:25.90px"></div>
<div class="vl" style="left:415.00px;top:391.00px;height:143.40px"></div>
<div class="vg" style="left:415.00px;top:534.40px;height:25.90px"></div>
<div class="vl" style="left:457.90px;top:391.00px;height:143.40px"></div>
<div class="vg" style="left:457.90px;top:534.40px;height:25.90px"></div>
<div class="vl" style="left:576.40px;top:391.00px;height:143.40px"></div>
<div class="vg" style="left:576.40px;top:534.40px;height:25.90px"></div>
<div class="vl" style="left:619.00px;top:391.00px;height:143.40px"></div>
<div class="vg" style="left:619.00px;top:534.40px;height:25.90px"></div>
<div class="vl" style="left:714.60px;top:391.00px;height:143.40px"></div>
<div class="vg" style="left:714.60px;top:534.40px;height:25.90px"></div>
<div class="vl" style="left:763.70px;top:391.00px;height:143.40px"></div>
<div class="vg" style="left:763.70px;top:534.40px;height:25.90px"></div>
<div class="vl" style="left:921.00px;top:391.00px;height:143.40px"></div>
<div class="vg" style="left:921.00px;top:534.40px;height:25.90px"></div>
<div class="vl" style="left:969.90px;top:391.00px;height:143.40px"></div>
<div class="vg" style="left:969.90px;top:534.40px;height:25.90px"></div>
<div class="vl" style="left:0px;top:373.40px;height:17.60px"></div>
<div class="vl" style="left:969.90px;top:373.40px;height:17.60px"></div>
<div class="title" style="top:560.30px;height:18.00px"><span style="top:9.00px">四、开服第四日累充福利<b>(</b>实付<b>)</b>（满足条件系统邮件自动发放）</span></div>
<div class="hbg" style="top:578.30px;height:11.88px"></div>
<div class="c h" style="left:0.50px;width:62.90px;top:585.04px">档位</div>
<div class="c h" style="left:63.40px;width:154.00px;top:585.04px">道具<i>1</i></div>
<div class="c h" style="left:217.40px;width:42.70px;top:585.04px">道具数量</div>
<div class="c h" style="left:260.10px;width:155.40px;top:585.04px">道具<i>2</i></div>
<div class="c h" style="left:415.50px;width:42.90px;top:585.04px">道具数量</div>
<div class="c h" style="left:458.40px;width:118.50px;top:585.04px">道具<i>3</i></div>
<div class="c h" style="left:576.90px;width:42.60px;top:585.04px">道具数量</div>
<div class="c h" style="left:619.50px;width:95.60px;top:585.04px">道具<i>4</i></div>
<div class="c h" style="left:715.10px;width:49.10px;top:585.04px">道具数量</div>
<div class="c h" style="left:764.20px;width:157.30px;top:585.04px">道具<i>5</i></div>
<div class="c h" style="left:921.50px;width:48.90px;top:585.04px">道具数量</div>
<div class="c" style="left:0.50px;width:62.90px;top:596.92px">累充<i>30</i></div>
<div class="c" style="left:63.40px;width:154.00px;top:596.92px">史诗智驾集装箱</div>
<div class="c" style="left:217.40px;width:42.70px;top:596.92px"><i>1</i></div>
<div class="c" style="left:260.10px;width:155.40px;top:596.92px">坚固钢材</div>
<div class="c" style="left:415.50px;width:42.90px;top:596.92px"><i>100</i></div>
<div class="c" style="left:458.40px;width:118.50px;top:596.92px">魔改涡轮</div>
<div class="c" style="left:576.90px;width:42.60px;top:596.92px"><i>10</i></div>
<div class="c" style="left:619.50px;width:95.60px;top:596.92px">催化剂</div>
<div class="c s" style="left:715.10px;width:49.10px;top:597.33px">2</div>
<div class="c" style="left:764.20px;width:157.30px;top:596.92px">机修笔记</div>
<div class="c s" style="left:921.50px;width:48.90px;top:597.33px">10</div>
<div class="c" style="left:0.50px;width:62.90px;top:608.81px">累充<i>68</i></div>
<div class="c" style="left:63.40px;width:154.00px;top:608.81px">史诗智驾集装箱</div>
<div class="c" style="left:217.40px;width:42.70px;top:608.81px"><i>2</i></div>
<div class="c" style="left:260.10px;width:155.40px;top:608.81px">坚固钢材</div>
<div class="c" style="left:415.50px;width:42.90px;top:608.81px"><i>200</i></div>
<div class="c" style="left:458.40px;width:118.50px;top:608.81px">魔改涡轮</div>
<div class="c" style="left:576.90px;width:42.60px;top:608.81px"><i>20</i></div>
<div class="c" style="left:619.50px;width:95.60px;top:608.81px">催化剂</div>
<div class="c s" style="left:715.10px;width:49.10px;top:609.21px">4</div>
<div class="c" style="left:764.20px;width:157.30px;top:608.81px">机修笔记</div>
<div class="c s" style="left:921.50px;width:48.90px;top:609.21px">20</div>
<div class="c" style="left:0.50px;width:62.90px;top:620.69px">累充<i>128</i></div>
<div class="c" style="left:63.40px;width:154.00px;top:620.69px">史诗智驾集装箱</div>
<div class="c" style="left:217.40px;width:42.70px;top:620.69px"><i>3</i></div>
<div class="c" style="left:260.10px;width:155.40px;top:620.69px">强化合金</div>
<div class="c" style="left:415.50px;width:42.90px;top:620.69px"><i>200</i></div>
<div class="c" style="left:458.40px;width:118.50px;top:620.69px">魔改涡轮</div>
<div class="c" style="left:576.90px;width:42.60px;top:620.69px"><i>30</i></div>
<div class="c" style="left:619.50px;width:95.60px;top:620.69px">催化剂</div>
<div class="c s" style="left:715.10px;width:49.10px;top:621.09px">6</div>
<div class="c" style="left:764.20px;width:157.30px;top:620.69px">机修笔记</div>
<div class="c s" style="left:921.50px;width:48.90px;top:621.09px">30</div>
<div class="c" style="left:0.50px;width:62.90px;top:632.57px">累充<i>328</i></div>
<div class="c" style="left:63.40px;width:154.00px;top:632.57px">传说智驾集装箱</div>
<div class="c" style="left:217.40px;width:42.70px;top:632.57px"><i>1</i></div>
<div class="c" style="left:260.10px;width:155.40px;top:632.57px">强化合金</div>
<div class="c" style="left:415.50px;width:42.90px;top:632.57px"><i>300</i></div>
<div class="c" style="left:458.40px;width:118.50px;top:632.57px">魔改涡轮</div>
<div class="c" style="left:576.90px;width:42.60px;top:632.57px"><i>50</i></div>
<div class="c" style="left:619.50px;width:95.60px;top:632.57px">催化剂</div>
<div class="c s" style="left:715.10px;width:49.10px;top:632.98px">10</div>
<div class="c" style="left:764.20px;width:157.30px;top:632.57px">机修笔记</div>
<div class="c s" style="left:921.50px;width:48.90px;top:632.98px">40</div>
<div class="c" style="left:0.50px;width:62.90px;top:644.46px">累充<i>500</i></div>
<div class="c" style="left:63.40px;width:154.00px;top:644.46px">传说智驾集装箱</div>
<div class="c" style="left:217.40px;width:42.70px;top:644.46px"><i>2</i></div>
<div class="c" style="left:260.10px;width:155.40px;top:644.46px">钛金合金</div>
<div class="c" style="left:415.50px;width:42.90px;top:644.46px"><i>300</i></div>
<div class="c" style="left:458.40px;width:118.50px;top:644.46px">魔改涡轮</div>
<div class="c" style="left:576.90px;width:42.60px;top:644.46px"><i>70</i></div>
<div class="c" style="left:619.50px;width:95.60px;top:644.46px">催化剂</div>
<div class="c s" style="left:715.10px;width:49.10px;top:644.86px">15</div>
<div class="c" style="left:764.20px;width:157.30px;top:644.46px">机修笔记</div>
<div class="c s" style="left:921.50px;width:48.90px;top:644.86px">50</div>
<div class="c" style="left:0.50px;width:62.90px;top:656.34px">累充<i>1000</i></div>
<div class="c" style="left:63.40px;width:154.00px;top:656.34px">传说智驾集装箱</div>
<div class="c" style="left:217.40px;width:42.70px;top:656.34px"><i>3</i></div>
<div class="c" style="left:260.10px;width:155.40px;top:656.34px">钛金合金</div>
<div class="c" style="left:415.50px;width:42.90px;top:656.34px"><i>400</i></div>
<div class="c" style="left:458.40px;width:118.50px;top:656.34px">魔改涡轮</div>
<div class="c" style="left:576.90px;width:42.60px;top:656.34px"><i>120</i></div>
<div class="c" style="left:619.50px;width:95.60px;top:656.34px">催化剂</div>
<div class="c s" style="left:715.10px;width:49.10px;top:656.74px">25</div>
<div class="c" style="left:764.20px;width:157.30px;top:656.34px">机修笔记</div>
<div class="c s" style="left:921.50px;width:48.90px;top:656.74px">100</div>
<div class="c" style="left:0.50px;width:62.90px;top:668.23px">累充<i>2000</i></div>
<div class="c" style="left:63.40px;width:154.00px;top:668.23px">传说智驾集装箱</div>
<div class="c" style="left:217.40px;width:42.70px;top:668.23px"><i>4</i></div>
<div class="c" style="left:260.10px;width:155.40px;top:668.23px">高级碳钎</div>
<div class="c" style="left:415.50px;width:42.90px;top:668.23px"><i>400</i></div>
<div class="c" style="left:458.40px;width:118.50px;top:668.23px">魔改涡轮</div>
<div class="c" style="left:576.90px;width:42.60px;top:668.23px"><i>200</i></div>
<div class="c" style="left:619.50px;width:95.60px;top:668.23px">催化剂</div>
<div class="c s" style="left:715.10px;width:49.10px;top:668.63px">40</div>
<div class="c" style="left:764.20px;width:157.30px;top:668.23px">芯片晶振</div>
<div class="c s" style="left:921.50px;width:48.90px;top:668.63px">30</div>
<div class="c" style="left:0.50px;width:62.90px;top:680.11px">累充<i>5000</i></div>
<div class="c" style="left:63.40px;width:154.00px;top:680.11px">传说智驾集装箱</div>
<div class="c" style="left:217.40px;width:42.70px;top:680.11px"><i>5</i></div>
<div class="c r" style="left:260.10px;width:155.40px;top:680.11px">绝版线下<i>XR</i>头饰：彩虹温泉（碎片）</div>
<div class="c" style="left:415.50px;width:42.90px;top:680.11px"><i>80</i></div>
<div class="c" style="left:458.40px;width:118.50px;top:680.11px">魔改涡轮</div>
<div class="c" style="left:576.90px;width:42.60px;top:680.11px"><i>400</i></div>
<div class="c" style="left:619.50px;width:95.60px;top:680.11px">催化剂</div>
<div class="c s" style="left:715.10px;width:49.10px;top:680.51px">80</div>
<div class="c" style="left:764.20px;width:157.30px;top:680.11px">芯片晶振</div>
<div class="c s" style="left:921.50px;width:48.90px;top:680.51px">50</div>
<div class="c" style="left:0.50px;width:62.90px;top:691.99px">累充<i>7000</i></div>
<div class="c" style="left:63.40px;width:154.00px;top:691.99px">传说智驾集装箱</div>
<div class="c" style="left:217.40px;width:42.70px;top:691.99px"><i>6</i></div>
<div class="c r" style="left:260.10px;width:155.40px;top:691.99px">绝版线下<i>XR</i>服饰：彩虹温泉（碎片）</div>
<div class="c" style="left:415.50px;width:42.90px;top:691.99px"><i>80</i></div>
<div class="c" style="left:458.40px;width:118.50px;top:691.99px">魔改涡轮</div>
<div class="c" style="left:576.90px;width:42.60px;top:691.99px"><i>500</i></div>
<div class="c" style="left:619.50px;width:95.60px;top:691.99px">催化剂</div>
<div class="c s" style="left:715.10px;width:49.10px;top:692.39px">100</div>
<div class="c" style="left:764.20px;width:157.30px;top:691.99px">芯片晶振</div>
<div class="c s" style="left:921.50px;width:48.90px;top:692.39px">80</div>
<div class="c" style="left:0.50px;width:62.90px;top:703.88px">累充<i>10000</i></div>
<div class="c" style="left:63.40px;width:154.00px;top:703.88px">传说智驾集装箱</div>
<div class="c" style="left:217.40px;width:42.70px;top:703.88px"><i>7</i></div>
<div class="c r" style="left:260.10px;width:155.40px;top:703.88px">绝版线下<i>XR</i>翅膀：金色传说（碎片）</div>
<div class="c" style="left:415.50px;width:42.90px;top:703.88px"><i>80</i></div>
<div class="c" style="left:458.40px;width:118.50px;top:703.88px">魔改涡轮</div>
<div class="c" style="left:576.90px;width:42.60px;top:703.88px"><i>600</i></div>
<div class="c" style="left:619.50px;width:95.60px;top:703.88px">催化剂</div>
<div class="c s" style="left:715.10px;width:49.10px;top:704.28px">120</div>
<div class="c" style="left:764.20px;width:157.30px;top:703.88px">芯片晶振</div>
<div class="c s" style="left:921.50px;width:48.90px;top:704.28px">100</div>
<div class="c" style="left:0.50px;width:62.90px;top:715.76px">累充<i>20000</i></div>
<div class="c" style="left:63.40px;width:154.00px;top:715.76px">传说智驾集装箱</div>
<div class="c" style="left:217.40px;width:42.70px;top:715.76px"><i>8</i></div>
<div class="c r" style="left:260.10px;width:155.40px;top:715.76px">绝版线下<i>XR</i>坐骑：机甲巨蝎（碎片）</div>
<div class="c" style="left:415.50px;width:42.90px;top:715.76px"><i>80</i></div>
<div class="c" style="left:458.40px;width:118.50px;top:715.76px">魔改涡轮</div>
<div class="c" style="left:576.90px;width:42.60px;top:715.76px"><i>800</i></div>
<div class="c" style="left:619.50px;width:95.60px;top:715.76px">催化剂</div>
<div class="c s" style="left:715.10px;width:49.10px;top:716.16px">150</div>
<div class="c" style="left:764.20px;width:157.30px;top:715.76px">芯片晶振</div>
<div class="c s" style="left:921.50px;width:48.90px;top:716.16px">150</div>
<div class="hl" style="top:560.10px"></div>
<div class="hl" style="top:578.10px"></div>
<div class="hl" style="top:589.98px"></div>
<div class="hl" style="top:601.87px"></div>
<div class="hl" style="top:613.75px"></div>
<div class="hl" style="top:625.63px"></div>
<div class="hl" style="top:637.52px"></div>
<div class="hl" style="top:649.40px"></div>
<div class="hl" style="top:661.28px"></div>
<div class="hl" style="top:673.17px"></div>
<div class="hl" style="top:685.05px"></div>
<div class="hl" style="top:696.93px"></div>
<div class="hl" style="top:708.82px"></div>
<div class="hl" style="top:720.70px"></div>
<div class="gl" style="top:733.90px"></div>
<div class="vl" style="left:0.00px;top:578.30px;height:142.60px"></div>
<div class="vg" style="left:0.00px;top:720.90px;height:26.40px"></div>
<div class="vl" style="left:62.90px;top:578.30px;height:142.60px"></div>
<div class="vg" style="left:62.90px;top:720.90px;height:26.40px"></div>
<div class="vl" style="left:216.90px;top:578.30px;height:142.60px"></div>
<div class="vg" style="left:216.90px;top:720.90px;height:26.40px"></div>
<div class="vl" style="left:259.60px;top:578.30px;height:142.60px"></div>
<div class="vg" style="left:259.60px;top:720.90px;height:26.40px"></div>
<div class="vl" style="left:415.00px;top:578.30px;height:142.60px"></div>
<div class="vg" style="left:415.00px;top:720.90px;height:26.40px"></div>
<div class="vl" style="left:457.90px;top:578.30px;height:142.60px"></div>
<div class="vg" style="left:457.90px;top:720.90px;height:26.40px"></div>
<div class="vl" style="left:576.40px;top:578.30px;height:142.60px"></div>
<div class="vg" style="left:576.40px;top:720.90px;height:26.40px"></div>
<div class="vl" style="left:619.00px;top:578.30px;height:142.60px"></div>
<div class="vg" style="left:619.00px;top:720.90px;height:26.40px"></div>
<div class="vl" style="left:714.60px;top:578.30px;height:142.60px"></div>
<div class="vg" style="left:714.60px;top:720.90px;height:26.40px"></div>
<div class="vl" style="left:763.70px;top:578.30px;height:142.60px"></div>
<div class="vg" style="left:763.70px;top:720.90px;height:26.40px"></div>
<div class="vl" style="left:921.00px;top:578.30px;height:142.60px"></div>
<div class="vg" style="left:921.00px;top:720.90px;height:26.40px"></div>
<div class="vl" style="left:969.90px;top:578.30px;height:142.60px"></div>
<div class="vg" style="left:969.90px;top:720.90px;height:26.40px"></div>
<div class="vl" style="left:0px;top:560.30px;height:18.00px"></div>
<div class="vl" style="left:969.90px;top:560.30px;height:18.00px"></div>
<div class="title" style="top:747.30px;height:16.90px"><span style="top:8.45px">五、开服第五日累充福利<b>(</b>实付<b>)</b>（满足条件系统邮件自动发放）</span></div>
<div class="hbg" style="top:764.20px;height:11.94px"></div>
<div class="c h" style="left:0.50px;width:62.90px;top:770.97px">档位</div>
<div class="c h" style="left:63.40px;width:154.00px;top:770.97px">道具<i>1</i></div>
<div class="c h" style="left:217.40px;width:42.70px;top:770.97px">道具数量</div>
<div class="c h" style="left:260.10px;width:155.40px;top:770.97px">道具<i>2</i></div>
<div class="c h" style="left:415.50px;width:42.90px;top:770.97px">道具数量</div>
<div class="c h" style="left:458.40px;width:118.50px;top:770.97px">道具<i>3</i></div>
<div class="c h" style="left:576.90px;width:42.60px;top:770.97px">道具数量</div>
<div class="c h" style="left:619.50px;width:95.60px;top:770.97px">道具<i>4</i></div>
<div class="c h" style="left:715.10px;width:49.10px;top:770.97px">道具数量</div>
<div class="c h" style="left:764.20px;width:157.30px;top:770.97px">道具<i>5</i></div>
<div class="c h" style="left:921.50px;width:48.90px;top:770.97px">道具数量</div>
<div class="c" style="left:0.50px;width:62.90px;top:782.91px">累充<i>30</i></div>
<div class="c" style="left:63.40px;width:154.00px;top:782.91px"><i>10</i>级宝石任选</div>
<div class="c" style="left:217.40px;width:42.70px;top:782.91px"><i>1</i></div>
<div class="c" style="left:260.10px;width:155.40px;top:782.91px"><i>4</i>阶圣装任选</div>
<div class="c" style="left:415.50px;width:42.90px;top:782.91px"><i>2</i></div>
<div class="c" style="left:458.40px;width:118.50px;top:782.91px">传世装备进阶石</div>
<div class="c" style="left:576.90px;width:42.60px;top:782.91px"><i>2</i></div>
<div class="c" style="left:619.50px;width:95.60px;top:782.91px">传世装备强化石</div>
<div class="c" style="left:715.10px;width:49.10px;top:782.91px"><i>100</i></div>
<div class="c" style="left:764.20px;width:157.30px;top:782.91px">传世装备强化进阶石</div>
<div class="c" style="left:921.50px;width:48.90px;top:782.91px"><i>10</i></div>
<div class="c" style="left:0.50px;width:62.90px;top:794.85px">累充<i>68</i></div>
<div class="c" style="left:63.40px;width:154.00px;top:794.85px"><i>12</i>级宝石任选</div>
<div class="c" style="left:217.40px;width:42.70px;top:794.85px"><i>1</i></div>
<div class="c" style="left:260.10px;width:155.40px;top:794.85px"><i>5</i>阶圣装任选</div>
<div class="c" style="left:415.50px;width:42.90px;top:794.85px"><i>2</i></div>
<div class="c" style="left:458.40px;width:118.50px;top:794.85px">传世装备进阶石</div>
<div class="c" style="left:576.90px;width:42.60px;top:794.85px"><i>5</i></div>
<div class="c" style="left:619.50px;width:95.60px;top:794.85px">传世装备强化石</div>
<div class="c" style="left:715.10px;width:49.10px;top:794.85px"><i>200</i></div>
<div class="c" style="left:764.20px;width:157.30px;top:794.85px">传世装备强化进阶石</div>
<div class="c" style="left:921.50px;width:48.90px;top:794.85px"><i>20</i></div>
<div class="c" style="left:0.50px;width:62.90px;top:806.80px">累充<i>128</i></div>
<div class="c" style="left:63.40px;width:154.00px;top:806.80px"><i>14</i>级宝石任选</div>
<div class="c" style="left:217.40px;width:42.70px;top:806.80px"><i>1</i></div>
<div class="c" style="left:260.10px;width:155.40px;top:806.80px"><i>6</i>阶圣装任选</div>
<div class="c" style="left:415.50px;width:42.90px;top:806.80px"><i>2</i></div>
<div class="c" style="left:458.40px;width:118.50px;top:806.80px">传世装备进阶石</div>
<div class="c" style="left:576.90px;width:42.60px;top:806.80px"><i>10</i></div>
<div class="c" style="left:619.50px;width:95.60px;top:806.80px">传世装备强化石</div>
<div class="c" style="left:715.10px;width:49.10px;top:806.80px"><i>300</i></div>
<div class="c" style="left:764.20px;width:157.30px;top:806.80px">传世装备强化进阶石</div>
<div class="c" style="left:921.50px;width:48.90px;top:806.80px"><i>30</i></div>
<div class="c" style="left:0.50px;width:62.90px;top:818.74px">累充<i>328</i></div>
<div class="c" style="left:63.40px;width:154.00px;top:818.74px"><i>16</i>级宝石任选</div>
<div class="c" style="left:217.40px;width:42.70px;top:818.74px"><i>1</i></div>
<div class="c" style="left:260.10px;width:155.40px;top:818.74px"><i>7</i>阶圣装任选</div>
<div class="c" style="left:415.50px;width:42.90px;top:818.74px"><i>2</i></div>
<div class="c" style="left:458.40px;width:118.50px;top:818.74px">传世装备进阶石</div>
<div class="c" style="left:576.90px;width:42.60px;top:818.74px"><i>15</i></div>
<div class="c" style="left:619.50px;width:95.60px;top:818.74px">传世装备强化石</div>
<div class="c" style="left:715.10px;width:49.10px;top:818.74px"><i>400</i></div>
<div class="c" style="left:764.20px;width:157.30px;top:818.74px">传世装备强化进阶石</div>
<div class="c" style="left:921.50px;width:48.90px;top:818.74px"><i>40</i></div>
<div class="c" style="left:0.50px;width:62.90px;top:830.68px">累充<i>500</i></div>
<div class="c" style="left:63.40px;width:154.00px;top:830.68px"><i>18</i>级宝石任选</div>
<div class="c" style="left:217.40px;width:42.70px;top:830.68px"><i>1</i></div>
<div class="c" style="left:260.10px;width:155.40px;top:830.68px"><i>8</i>阶圣装任选</div>
<div class="c" style="left:415.50px;width:42.90px;top:830.68px"><i>2</i></div>
<div class="c" style="left:458.40px;width:118.50px;top:830.68px">传世装备进阶石</div>
<div class="c" style="left:576.90px;width:42.60px;top:830.68px"><i>20</i></div>
<div class="c" style="left:619.50px;width:95.60px;top:830.68px">传世装备强化石</div>
<div class="c" style="left:715.10px;width:49.10px;top:830.68px"><i>500</i></div>
<div class="c" style="left:764.20px;width:157.30px;top:830.68px">传世装备强化进阶石</div>
<div class="c" style="left:921.50px;width:48.90px;top:830.68px"><i>50</i></div>
<div class="c" style="left:0.50px;width:62.90px;top:842.62px">累充<i>1000</i></div>
<div class="c" style="left:63.40px;width:154.00px;top:842.62px"><i>20</i>级宝石任选</div>
<div class="c" style="left:217.40px;width:42.70px;top:842.62px"><i>1</i></div>
<div class="c" style="left:260.10px;width:155.40px;top:842.62px"><i>9</i>阶圣装任选</div>
<div class="c" style="left:415.50px;width:42.90px;top:842.62px"><i>2</i></div>
<div class="c" style="left:458.40px;width:118.50px;top:842.62px">传世装备进阶石</div>
<div class="c" style="left:576.90px;width:42.60px;top:842.62px"><i>30</i></div>
<div class="c" style="left:619.50px;width:95.60px;top:842.62px">传世装备强化石</div>
<div class="c" style="left:715.10px;width:49.10px;top:842.62px"><i>600</i></div>
<div class="c" style="left:764.20px;width:157.30px;top:842.62px">传世装备强化进阶石</div>
<div class="c" style="left:921.50px;width:48.90px;top:842.62px"><i>60</i></div>
<div class="c" style="left:0.50px;width:62.90px;top:854.56px">累充<i>2000</i></div>
<div class="c" style="left:63.40px;width:154.00px;top:854.56px"><i>20</i>级宝石任选</div>
<div class="c" style="left:217.40px;width:42.70px;top:854.56px"><i>1</i></div>
<div class="c" style="left:260.10px;width:155.40px;top:854.56px"><i>10</i>阶圣装任选</div>
<div class="c" style="left:415.50px;width:42.90px;top:854.56px"><i>2</i></div>
<div class="c" style="left:458.40px;width:118.50px;top:854.56px">传世装备进阶石</div>
<div class="c" style="left:576.90px;width:42.60px;top:854.56px"><i>50</i></div>
<div class="c" style="left:619.50px;width:95.60px;top:854.56px">传世装备强化石</div>
<div class="c" style="left:715.10px;width:49.10px;top:854.56px"><i>1000</i></div>
<div class="c" style="left:764.20px;width:157.30px;top:854.56px">传世装备强化进阶石</div>
<div class="c" style="left:921.50px;width:48.90px;top:854.56px"><i>100</i></div>
<div class="c" style="left:0.50px;width:62.90px;top:866.50px">累充<i>5000</i></div>
<div class="c r" style="left:63.40px;width:154.00px;top:866.50px">绝版线下<i>XR</i>头饰：彩虹温泉（碎片）</div>
<div class="c" style="left:217.40px;width:42.70px;top:866.50px"><i>80</i></div>
<div class="c" style="left:260.10px;width:155.40px;top:866.50px"><i>11</i>阶圣装任选</div>
<div class="c" style="left:415.50px;width:42.90px;top:866.50px"><i>4</i></div>
<div class="c" style="left:458.40px;width:118.50px;top:866.50px">传世装备进阶石</div>
<div class="c" style="left:576.90px;width:42.60px;top:866.50px"><i>100</i></div>
<div class="c" style="left:619.50px;width:95.60px;top:866.50px">传世装备强化石</div>
<div class="c" style="left:715.10px;width:49.10px;top:866.50px"><i>2000</i></div>
<div class="c" style="left:764.20px;width:157.30px;top:866.50px">传世装备强化进阶石</div>
<div class="c" style="left:921.50px;width:48.90px;top:866.50px"><i>200</i></div>
<div class="c" style="left:0.50px;width:62.90px;top:878.45px">累充<i>7000</i></div>
<div class="c r" style="left:63.40px;width:154.00px;top:878.45px">绝版线下<i>XR</i>服饰：彩虹温泉（碎片）</div>
<div class="c" style="left:217.40px;width:42.70px;top:878.45px"><i>80</i></div>
<div class="c" style="left:260.10px;width:155.40px;top:878.45px"><i>12</i>阶圣装任选</div>
<div class="c" style="left:415.50px;width:42.90px;top:878.45px"><i>4</i></div>
<div class="c" style="left:458.40px;width:118.50px;top:878.45px">传世装备进阶石</div>
<div class="c" style="left:576.90px;width:42.60px;top:878.45px"><i>150</i></div>
<div class="c" style="left:619.50px;width:95.60px;top:878.45px">传世装备强化石</div>
<div class="c" style="left:715.10px;width:49.10px;top:878.45px"><i>3000</i></div>
<div class="c" style="left:764.20px;width:157.30px;top:878.45px">传世装备强化进阶石</div>
<div class="c" style="left:921.50px;width:48.90px;top:878.45px"><i>300</i></div>
<div class="c" style="left:0.50px;width:62.90px;top:890.39px">累充<i>10000</i></div>
<div class="c r" style="left:63.40px;width:154.00px;top:890.39px">绝版线下<i>XR</i>翅膀：金色传说（碎片）</div>
<div class="c" style="left:217.40px;width:42.70px;top:890.39px"><i>80</i></div>
<div class="c r" style="left:260.10px;width:155.40px;top:890.39px"><i>13</i>阶圣装一套</div>
<div class="c" style="left:415.50px;width:42.90px;top:890.39px"><i>1</i></div>
<div class="c" style="left:458.40px;width:118.50px;top:890.39px">传世装备进阶石</div>
<div class="c" style="left:576.90px;width:42.60px;top:890.39px"><i>200</i></div>
<div class="c" style="left:619.50px;width:95.60px;top:890.39px">传世装备强化石</div>
<div class="c" style="left:715.10px;width:49.10px;top:890.39px"><i>4000</i></div>
<div class="c" style="left:764.20px;width:157.30px;top:890.39px">传世装备强化进阶石</div>
<div class="c" style="left:921.50px;width:48.90px;top:890.39px"><i>400</i></div>
<div class="c" style="left:0.50px;width:62.90px;top:902.33px">累充<i>20000</i></div>
<div class="c r" style="left:63.40px;width:154.00px;top:902.33px">绝版线下<i>XR</i>坐骑：机甲巨蝎（碎片）</div>
<div class="c" style="left:217.40px;width:42.70px;top:902.33px"><i>80</i></div>
<div class="c r" style="left:260.10px;width:155.40px;top:902.33px"><i>14</i>阶圣装一套</div>
<div class="c" style="left:415.50px;width:42.90px;top:902.33px"><i>1</i></div>
<div class="c" style="left:458.40px;width:118.50px;top:902.33px">传世装备进阶石</div>
<div class="c" style="left:576.90px;width:42.60px;top:902.33px"><i>300</i></div>
<div class="c" style="left:619.50px;width:95.60px;top:902.33px">传世装备强化石</div>
<div class="c" style="left:715.10px;width:49.10px;top:902.33px"><i>8000</i></div>
<div class="c" style="left:764.20px;width:157.30px;top:902.33px">传世装备强化进阶石</div>
<div class="c" style="left:921.50px;width:48.90px;top:902.33px"><i>800</i></div>
<div class="hl" style="top:747.10px"></div>
<div class="hl" style="top:764.00px"></div>
<div class="hl" style="top:775.94px"></div>
<div class="hl" style="top:787.88px"></div>
<div class="hl" style="top:799.83px"></div>
<div class="hl" style="top:811.77px"></div>
<div class="hl" style="top:823.71px"></div>
<div class="hl" style="top:835.65px"></div>
<div class="hl" style="top:847.59px"></div>
<div class="hl" style="top:859.53px"></div>
<div class="hl" style="top:871.47px"></div>
<div class="hl" style="top:883.42px"></div>
<div class="hl" style="top:895.36px"></div>
<div class="hl" style="top:907.30px"></div>
<div class="gl" style="top:920.40px"></div>
<div class="vl" style="left:0.00px;top:764.20px;height:143.30px"></div>
<div class="vg" style="left:0.00px;top:907.50px;height:25.80px"></div>
<div class="vl" style="left:62.90px;top:764.20px;height:143.30px"></div>
<div class="vg" style="left:62.90px;top:907.50px;height:25.80px"></div>
<div class="vl" style="left:216.90px;top:764.20px;height:143.30px"></div>
<div class="vg" style="left:216.90px;top:907.50px;height:25.80px"></div>
<div class="vl" style="left:259.60px;top:764.20px;height:143.30px"></div>
<div class="vg" style="left:259.60px;top:907.50px;height:25.80px"></div>
<div class="vl" style="left:415.00px;top:764.20px;height:143.30px"></div>
<div class="vg" style="left:415.00px;top:907.50px;height:25.80px"></div>
<div class="vl" style="left:457.90px;top:764.20px;height:143.30px"></div>
<div class="vg" style="left:457.90px;top:907.50px;height:25.80px"></div>
<div class="vl" style="left:576.40px;top:764.20px;height:143.30px"></div>
<div class="vg" style="left:576.40px;top:907.50px;height:25.80px"></div>
<div class="vl" style="left:619.00px;top:764.20px;height:143.30px"></div>
<div class="vg" style="left:619.00px;top:907.50px;height:25.80px"></div>
<div class="vl" style="left:714.60px;top:764.20px;height:143.30px"></div>
<div class="vg" style="left:714.60px;top:907.50px;height:25.80px"></div>
<div class="vl" style="left:763.70px;top:764.20px;height:143.30px"></div>
<div class="vg" style="left:763.70px;top:907.50px;height:25.80px"></div>
<div class="vl" style="left:921.00px;top:764.20px;height:143.30px"></div>
<div class="vg" style="left:921.00px;top:907.50px;height:25.80px"></div>
<div class="vl" style="left:969.90px;top:764.20px;height:143.30px"></div>
<div class="vg" style="left:969.90px;top:907.50px;height:25.80px"></div>
<div class="vl" style="left:0px;top:747.30px;height:16.90px"></div>
<div class="vl" style="left:969.90px;top:747.30px;height:16.90px"></div>
<div class="title" style="top:933.30px;height:18.00px"><span style="top:9.00px">六、开服第六日累充福利<b>(</b>实付<b>)</b>（满足条件系统邮件自动发放）</span></div>
<div class="hbg" style="top:951.30px;height:11.93px"></div>
<div class="c h" style="left:0.50px;width:62.90px;top:958.06px">档位</div>
<div class="c h" style="left:63.40px;width:154.00px;top:958.06px">道具<i>1</i></div>
<div class="c h" style="left:217.40px;width:42.70px;top:958.06px">道具数量</div>
<div class="c h" style="left:260.10px;width:155.40px;top:958.06px">道具<i>2</i></div>
<div class="c h" style="left:415.50px;width:42.90px;top:958.06px">道具数量</div>
<div class="c h" style="left:458.40px;width:118.50px;top:958.06px">道具<i>3</i></div>
<div class="c h" style="left:576.90px;width:42.60px;top:958.06px">道具数量</div>
<div class="c h" style="left:619.50px;width:95.60px;top:958.06px">道具<i>4</i></div>
<div class="c h" style="left:715.10px;width:49.10px;top:958.06px">道具数量</div>
<div class="c h" style="left:764.20px;width:157.30px;top:958.06px">道具<i>5</i></div>
<div class="c h" style="left:921.50px;width:48.90px;top:958.06px">道具数量</div>
<div class="c" style="left:0.50px;width:62.90px;top:969.99px">累充<i>30</i></div>
<div class="c" style="left:63.40px;width:154.00px;top:969.99px">珍品披风盒</div>
<div class="c" style="left:217.40px;width:42.70px;top:969.99px"><i>1</i></div>
<div class="c" style="left:260.10px;width:155.40px;top:969.99px">纳米织线</div>
<div class="c" style="left:415.50px;width:42.90px;top:969.99px"><i>20</i></div>
<div class="c" style="left:458.40px;width:118.50px;top:969.99px">超导纤维</div>
<div class="c" style="left:576.90px;width:42.60px;top:969.99px"><i>30</i></div>
<div class="c" style="left:619.50px;width:95.60px;top:969.99px">熵减谐振仪</div>
<div class="c" style="left:715.10px;width:49.10px;top:969.99px"><i>20</i></div>
<div class="c" style="left:764.20px;width:157.30px;top:969.99px">赤晶</div>
<div class="c" style="left:921.50px;width:48.90px;top:969.99px"><i>100000</i></div>
<div class="c" style="left:0.50px;width:62.90px;top:981.91px">累充<i>68</i></div>
<div class="c" style="left:63.40px;width:154.00px;top:981.91px">珍品披风盒</div>
<div class="c" style="left:217.40px;width:42.70px;top:981.91px"><i>1</i></div>
<div class="c" style="left:260.10px;width:155.40px;top:981.91px">纳米织线</div>
<div class="c" style="left:415.50px;width:42.90px;top:981.91px"><i>40</i></div>
<div class="c" style="left:458.40px;width:118.50px;top:981.91px">超导纤维</div>
<div class="c" style="left:576.90px;width:42.60px;top:981.91px"><i>60</i></div>
<div class="c" style="left:619.50px;width:95.60px;top:981.91px">熵减谐振仪</div>
<div class="c" style="left:715.10px;width:49.10px;top:981.91px"><i>40</i></div>
<div class="c" style="left:764.20px;width:157.30px;top:981.91px">赤晶</div>
<div class="c" style="left:921.50px;width:48.90px;top:981.91px"><i>200000</i></div>
<div class="c" style="left:0.50px;width:62.90px;top:993.84px">累充<i>128</i></div>
<div class="c" style="left:63.40px;width:154.00px;top:993.84px">珍品披风盒</div>
<div class="c" style="left:217.40px;width:42.70px;top:993.84px"><i>1</i></div>
<div class="c" style="left:260.10px;width:155.40px;top:993.84px">超维织线</div>
<div class="c" style="left:415.50px;width:42.90px;top:993.84px"><i>20</i></div>
<div class="c" style="left:458.40px;width:118.50px;top:993.84px">超导纤维</div>
<div class="c" style="left:576.90px;width:42.60px;top:993.84px"><i>150</i></div>
<div class="c" style="left:619.50px;width:95.60px;top:993.84px">熵减谐振仪</div>
<div class="c" style="left:715.10px;width:49.10px;top:993.84px"><i>100</i></div>
<div class="c" style="left:764.20px;width:157.30px;top:993.84px">赤晶</div>
<div class="c" style="left:921.50px;width:48.90px;top:993.84px"><i>500000</i></div>
<div class="c" style="left:0.50px;width:62.90px;top:1005.76px">累充<i>328</i></div>
<div class="c" style="left:63.40px;width:154.00px;top:1005.76px">珍品披风盒</div>
<div class="c" style="left:217.40px;width:42.70px;top:1005.76px"><i>1</i></div>
<div class="c" style="left:260.10px;width:155.40px;top:1005.76px">超维织线</div>
<div class="c" style="left:415.50px;width:42.90px;top:1005.76px"><i>40</i></div>
<div class="c" style="left:458.40px;width:118.50px;top:1005.76px">超导纤维</div>
<div class="c" style="left:576.90px;width:42.60px;top:1005.76px"><i>300</i></div>
<div class="c" style="left:619.50px;width:95.60px;top:1005.76px">熵减谐振仪</div>
<div class="c" style="left:715.10px;width:49.10px;top:1005.76px"><i>200</i></div>
<div class="c" style="left:764.20px;width:157.30px;top:1005.76px">赤晶</div>
<div class="c" style="left:921.50px;width:48.90px;top:1005.76px"><i>1000000</i></div>
<div class="c" style="left:0.50px;width:62.90px;top:1017.69px">累充<i>500</i></div>
<div class="c" style="left:63.40px;width:154.00px;top:1017.69px">珍品披风盒</div>
<div class="c" style="left:217.40px;width:42.70px;top:1017.69px"><i>2</i></div>
<div class="c" style="left:260.10px;width:155.40px;top:1017.69px">纳米核心</div>
<div class="c" style="left:415.50px;width:42.90px;top:1017.69px"><i>1</i></div>
<div class="c" style="left:458.40px;width:118.50px;top:1017.69px">超导纤维</div>
<div class="c" style="left:576.90px;width:42.60px;top:1017.69px"><i>600</i></div>
<div class="c" style="left:619.50px;width:95.60px;top:1017.69px">熵减谐振仪</div>
<div class="c" style="left:715.10px;width:49.10px;top:1017.69px"><i>400</i></div>
<div class="c" style="left:764.20px;width:157.30px;top:1017.69px">赤晶</div>
<div class="c" style="left:921.50px;width:48.90px;top:1017.69px"><i>2000000</i></div>
<div class="c" style="left:0.50px;width:62.90px;top:1029.61px">累充<i>1000</i></div>
<div class="c" style="left:63.40px;width:154.00px;top:1029.61px">珍品披风盒</div>
<div class="c" style="left:217.40px;width:42.70px;top:1029.61px"><i>3</i></div>
<div class="c" style="left:260.10px;width:155.40px;top:1029.61px">纳米核心</div>
<div class="c" style="left:415.50px;width:42.90px;top:1029.61px"><i>2</i></div>
<div class="c" style="left:458.40px;width:118.50px;top:1029.61px">超导纤维</div>
<div class="c" style="left:576.90px;width:42.60px;top:1029.61px"><i>900</i></div>
<div class="c" style="left:619.50px;width:95.60px;top:1029.61px">熵减谐振仪</div>
<div class="c" style="left:715.10px;width:49.10px;top:1029.61px"><i>600</i></div>
<div class="c" style="left:764.20px;width:157.30px;top:1029.61px">赤晶</div>
<div class="c" style="left:921.50px;width:48.90px;top:1029.61px"><i>3000000</i></div>
<div class="c" style="left:0.50px;width:62.90px;top:1041.54px">累充<i>2000</i></div>
<div class="c" style="left:63.40px;width:154.00px;top:1041.54px">红色披风</div>
<div class="c" style="left:217.40px;width:42.70px;top:1041.54px"><i>1</i></div>
<div class="c" style="left:260.10px;width:155.40px;top:1041.54px">纳米核心</div>
<div class="c" style="left:415.50px;width:42.90px;top:1041.54px"><i>3</i></div>
<div class="c" style="left:458.40px;width:118.50px;top:1041.54px">超导纤维</div>
<div class="c" style="left:576.90px;width:42.60px;top:1041.54px"><i>1500</i></div>
<div class="c" style="left:619.50px;width:95.60px;top:1041.54px">熵减谐振仪</div>
<div class="c" style="left:715.10px;width:49.10px;top:1041.54px"><i>1000</i></div>
<div class="c" style="left:764.20px;width:157.30px;top:1041.54px">赤晶</div>
<div class="c" style="left:921.50px;width:48.90px;top:1041.54px"><i>5000000</i></div>
<div class="c" style="left:0.50px;width:62.90px;top:1053.46px">累充<i>5000</i></div>
<div class="c" style="left:63.40px;width:154.00px;top:1053.46px">红色披风</div>
<div class="c" style="left:217.40px;width:42.70px;top:1053.46px"><i>2</i></div>
<div class="c" style="left:260.10px;width:155.40px;top:1053.46px">纳米核心</div>
<div class="c" style="left:415.50px;width:42.90px;top:1053.46px"><i>5</i></div>
<div class="c" style="left:458.40px;width:118.50px;top:1053.46px">超导纤维</div>
<div class="c" style="left:576.90px;width:42.60px;top:1053.46px"><i>2000</i></div>
<div class="c" style="left:619.50px;width:95.60px;top:1053.46px">熵减谐振仪</div>
<div class="c" style="left:715.10px;width:49.10px;top:1053.46px"><i>2000</i></div>
<div class="c r" style="left:764.20px;width:157.30px;top:1053.46px">绝版线下<i>XR</i>头饰：彩虹温泉（碎片）</div>
<div class="c" style="left:921.50px;width:48.90px;top:1053.46px"><i>80</i></div>
<div class="c" style="left:0.50px;width:62.90px;top:1065.39px">累充<i>7000</i></div>
<div class="c" style="left:63.40px;width:154.00px;top:1065.39px">红色披风</div>
<div class="c" style="left:217.40px;width:42.70px;top:1065.39px"><i>4</i></div>
<div class="c" style="left:260.10px;width:155.40px;top:1065.39px">纳米核心</div>
<div class="c" style="left:415.50px;width:42.90px;top:1065.39px"><i>7</i></div>
<div class="c" style="left:458.40px;width:118.50px;top:1065.39px">超导纤维</div>
<div class="c" style="left:576.90px;width:42.60px;top:1065.39px"><i>3000</i></div>
<div class="c" style="left:619.50px;width:95.60px;top:1065.39px">熵减谐振仪</div>
<div class="c" style="left:715.10px;width:49.10px;top:1065.39px"><i>2400</i></div>
<div class="c r" style="left:764.20px;width:157.30px;top:1065.39px">绝版线下<i>XR</i>服饰：彩虹温泉（碎片）</div>
<div class="c" style="left:921.50px;width:48.90px;top:1065.39px"><i>80</i></div>
<div class="c" style="left:0.50px;width:62.90px;top:1077.31px">累充<i>10000</i></div>
<div class="c r" style="left:63.40px;width:154.00px;top:1077.31px"><i>SP</i>披风</div>
<div class="c" style="left:217.40px;width:42.70px;top:1077.31px"><i>1</i></div>
<div class="c" style="left:260.10px;width:155.40px;top:1077.31px">纳米核心</div>
<div class="c" style="left:415.50px;width:42.90px;top:1077.31px"><i>10</i></div>
<div class="c" style="left:458.40px;width:118.50px;top:1077.31px">超导纤维</div>
<div class="c" style="left:576.90px;width:42.60px;top:1077.31px"><i>4000</i></div>
<div class="c" style="left:619.50px;width:95.60px;top:1077.31px">熵减谐振仪</div>
<div class="c" style="left:715.10px;width:49.10px;top:1077.31px"><i>3000</i></div>
<div class="c r" style="left:764.20px;width:157.30px;top:1077.31px">绝版线下<i>XR</i>翅膀：金色传说（碎片）</div>
<div class="c" style="left:921.50px;width:48.90px;top:1077.31px"><i>80</i></div>
<div class="c" style="left:0.50px;width:62.90px;top:1089.24px">累充<i>20000</i></div>
<div class="c r" style="left:63.40px;width:154.00px;top:1089.24px"><i>SP</i>披风</div>
<div class="c" style="left:217.40px;width:42.70px;top:1089.24px"><i>2</i></div>
<div class="c" style="left:260.10px;width:155.40px;top:1089.24px">纳米核心</div>
<div class="c" style="left:415.50px;width:42.90px;top:1089.24px"><i>20</i></div>
<div class="c" style="left:458.40px;width:118.50px;top:1089.24px">超导纤维</div>
<div class="c" style="left:576.90px;width:42.60px;top:1089.24px"><i>5000</i></div>
<div class="c" style="left:619.50px;width:95.60px;top:1089.24px">熵减谐振仪</div>
<div class="c" style="left:715.10px;width:49.10px;top:1089.24px"><i>4000</i></div>
<div class="c r" style="left:764.20px;width:157.30px;top:1089.24px">绝版线下<i>XR</i>坐骑：机甲巨蝎（碎片）</div>
<div class="c" style="left:921.50px;width:48.90px;top:1089.24px"><i>80</i></div>
<div class="hl" style="top:933.10px"></div>
<div class="hl" style="top:951.10px"></div>
<div class="hl" style="top:963.02px"></div>
<div class="hl" style="top:974.95px"></div>
<div class="hl" style="top:986.88px"></div>
<div class="hl" style="top:998.80px"></div>
<div class="hl" style="top:1010.72px"></div>
<div class="hl" style="top:1022.65px"></div>
<div class="hl" style="top:1034.58px"></div>
<div class="hl" style="top:1046.50px"></div>
<div class="hl" style="top:1058.42px"></div>
<div class="hl" style="top:1070.35px"></div>
<div class="hl" style="top:1082.28px"></div>
<div class="hl" style="top:1094.20px"></div>
<div class="gl" style="top:1107.20px"></div>
<div class="vl" style="left:0.00px;top:951.30px;height:143.10px"></div>
<div class="vg" style="left:0.00px;top:1094.40px;height:25.80px"></div>
<div class="vl" style="left:62.90px;top:951.30px;height:143.10px"></div>
<div class="vg" style="left:62.90px;top:1094.40px;height:25.80px"></div>
<div class="vl" style="left:216.90px;top:951.30px;height:143.10px"></div>
<div class="vg" style="left:216.90px;top:1094.40px;height:25.80px"></div>
<div class="vl" style="left:259.60px;top:951.30px;height:143.10px"></div>
<div class="vg" style="left:259.60px;top:1094.40px;height:25.80px"></div>
<div class="vl" style="left:415.00px;top:951.30px;height:143.10px"></div>
<div class="vg" style="left:415.00px;top:1094.40px;height:25.80px"></div>
<div class="vl" style="left:457.90px;top:951.30px;height:143.10px"></div>
<div class="vg" style="left:457.90px;top:1094.40px;height:25.80px"></div>
<div class="vl" style="left:576.40px;top:951.30px;height:143.10px"></div>
<div class="vg" style="left:576.40px;top:1094.40px;height:25.80px"></div>
<div class="vl" style="left:619.00px;top:951.30px;height:143.10px"></div>
<div class="vg" style="left:619.00px;top:1094.40px;height:25.80px"></div>
<div class="vl" style="left:714.60px;top:951.30px;height:143.10px"></div>
<div class="vg" style="left:714.60px;top:1094.40px;height:25.80px"></div>
<div class="vl" style="left:763.70px;top:951.30px;height:143.10px"></div>
<div class="vg" style="left:763.70px;top:1094.40px;height:25.80px"></div>
<div class="vl" style="left:921.00px;top:951.30px;height:143.10px"></div>
<div class="vg" style="left:921.00px;top:1094.40px;height:25.80px"></div>
<div class="vl" style="left:969.90px;top:951.30px;height:143.10px"></div>
<div class="vg" style="left:969.90px;top:1094.40px;height:25.80px"></div>
<div class="vl" style="left:0px;top:933.30px;height:18.00px"></div>
<div class="vl" style="left:969.90px;top:933.30px;height:18.00px"></div>
<div class="title" style="top:1120.20px;height:17.50px"><span style="top:8.75px">七、开服第七日累充福利<b>(</b>实付<b>)</b>（满足条件系统邮件自动发放）</span></div>
<div class="hbg" style="top:1137.70px;height:11.79px"></div>
<div class="c h" style="left:0.50px;width:62.90px;top:1144.40px">档位</div>
<div class="c h" style="left:63.40px;width:154.00px;top:1144.40px">道具<i>1</i></div>
<div class="c h" style="left:217.40px;width:42.70px;top:1144.40px">道具数量</div>
<div class="c h" style="left:260.10px;width:155.40px;top:1144.40px">道具<i>2</i></div>
<div class="c h" style="left:415.50px;width:42.90px;top:1144.40px">道具数量</div>
<div class="c h" style="left:458.40px;width:118.50px;top:1144.40px">道具<i>3</i></div>
<div class="c h" style="left:576.90px;width:42.60px;top:1144.40px">道具数量</div>
<div class="c h" style="left:619.50px;width:95.60px;top:1144.40px">道具<i>4</i></div>
<div class="c h" style="left:715.10px;width:49.10px;top:1144.40px">道具数量</div>
<div class="c h" style="left:764.20px;width:157.30px;top:1144.40px">道具<i>5</i></div>
<div class="c h" style="left:921.50px;width:48.90px;top:1144.40px">道具数量</div>
<div class="c" style="left:0.50px;width:62.90px;top:1156.19px">累充<i>30</i></div>
<div class="c" style="left:63.40px;width:154.00px;top:1156.19px"><i>10</i>级宝石任选</div>
<div class="c" style="left:217.40px;width:42.70px;top:1156.19px"><i>1</i></div>
<div class="c n" style="left:260.10px;width:155.40px;top:1156.19px">技能点</div>
<div class="c" style="left:415.50px;width:42.90px;top:1156.19px"><i>2</i></div>
<div class="c n" style="left:458.40px;width:118.50px;top:1156.19px">洗炼石</div>
<div class="c" style="left:576.90px;width:42.60px;top:1156.19px"><i>300</i></div>
<div class="c n" style="left:619.50px;width:95.60px;top:1156.19px">珍奇材料自选大礼包</div>
<div class="c" style="left:715.10px;width:49.10px;top:1156.19px"><i>2</i></div>
<div class="c" style="left:764.20px;width:157.30px;top:1156.19px">伙伴寻访券</div>
<div class="c" style="left:921.50px;width:48.90px;top:1156.19px"><i>30</i></div>
<div class="c" style="left:0.50px;width:62.90px;top:1167.98px">累充<i>68</i></div>
<div class="c" style="left:63.40px;width:154.00px;top:1167.98px"><i>12</i>级宝石任选</div>
<div class="c" style="left:217.40px;width:42.70px;top:1167.98px"><i>1</i></div>
<div class="c n" style="left:260.10px;width:155.40px;top:1167.98px">技能点</div>
<div class="c" style="left:415.50px;width:42.90px;top:1167.98px"><i>4</i></div>
<div class="c n" style="left:458.40px;width:118.50px;top:1167.98px">洗炼石</div>
<div class="c" style="left:576.90px;width:42.60px;top:1167.98px"><i>500</i></div>
<div class="c n" style="left:619.50px;width:95.60px;top:1167.98px">珍奇材料自选大礼包</div>
<div class="c" style="left:715.10px;width:49.10px;top:1167.98px"><i>4</i></div>
<div class="c" style="left:764.20px;width:157.30px;top:1167.98px">伙伴寻访券</div>
<div class="c" style="left:921.50px;width:48.90px;top:1167.98px"><i>50</i></div>
<div class="c" style="left:0.50px;width:62.90px;top:1179.77px">累充<i>128</i></div>
<div class="c" style="left:63.40px;width:154.00px;top:1179.77px"><i>14</i>级宝石任选</div>
<div class="c" style="left:217.40px;width:42.70px;top:1179.77px"><i>1</i></div>
<div class="c n" style="left:260.10px;width:155.40px;top:1179.77px">翅膀展馆创元晶</div>
<div class="c s" style="left:415.50px;width:42.90px;top:1180.17px">2</div>
<div class="c n" style="left:458.40px;width:118.50px;top:1179.77px">翅膀展馆灵言玉</div>
<div class="c" style="left:576.90px;width:42.60px;top:1179.77px"><i>2</i></div>
<div class="c n" style="left:619.50px;width:95.60px;top:1179.77px">翅膀淬炼勋章</div>
<div class="c" style="left:715.10px;width:49.10px;top:1179.77px"><i>200</i></div>
<div class="c" style="left:764.20px;width:157.30px;top:1179.77px"><i>97</i>号动能核</div>
<div class="c" style="left:921.50px;width:48.90px;top:1179.77px"><i>50</i></div>
<div class="c" style="left:0.50px;width:62.90px;top:1191.56px">累充<i>328</i></div>
<div class="c" style="left:63.40px;width:154.00px;top:1191.56px"><i>16</i>级宝石任选</div>
<div class="c" style="left:217.40px;width:42.70px;top:1191.56px"><i>1</i></div>
<div class="c n" style="left:260.10px;width:155.40px;top:1191.56px">神兵展馆创元晶</div>
<div class="c s" style="left:415.50px;width:42.90px;top:1191.96px">2</div>
<div class="c n" style="left:458.40px;width:118.50px;top:1191.56px">神兵展馆灵言玉</div>
<div class="c" style="left:576.90px;width:42.60px;top:1191.56px"><i>4</i></div>
<div class="c n" style="left:619.50px;width:95.60px;top:1191.56px">神兵精铸勋章</div>
<div class="c" style="left:715.10px;width:49.10px;top:1191.56px"><i>400</i></div>
<div class="c" style="left:764.20px;width:157.30px;top:1191.56px">高级拟态武器组件</div>
<div class="c" style="left:921.50px;width:48.90px;top:1191.56px"><i>100</i></div>
<div class="c" style="left:0.50px;width:62.90px;top:1203.35px">累充<i>500</i></div>
<div class="c" style="left:63.40px;width:154.00px;top:1203.35px"><i>18</i>级宝石任选</div>
<div class="c" style="left:217.40px;width:42.70px;top:1203.35px"><i>1</i></div>
<div class="c n" style="left:260.10px;width:155.40px;top:1203.35px">坐骑展馆创元晶</div>
<div class="c s" style="left:415.50px;width:42.90px;top:1203.75px">3</div>
<div class="c n" style="left:458.40px;width:118.50px;top:1203.35px">坐骑展馆灵言玉</div>
<div class="c" style="left:576.90px;width:42.60px;top:1203.35px"><i>8</i></div>
<div class="c n" style="left:619.50px;width:95.60px;top:1203.35px">坐骑驯养勋章</div>
<div class="c" style="left:715.10px;width:49.10px;top:1203.35px"><i>800</i></div>
<div class="c" style="left:764.20px;width:157.30px;top:1203.35px">高级引擎套件</div>
<div class="c" style="left:921.50px;width:48.90px;top:1203.35px"><i>200</i></div>
<div class="c" style="left:0.50px;width:62.90px;top:1215.15px">累充<i>1000</i></div>
<div class="c" style="left:63.40px;width:154.00px;top:1215.15px"><i>20</i>级宝石任选</div>
<div class="c" style="left:217.40px;width:42.70px;top:1215.15px"><i>1</i></div>
<div class="c n" style="left:260.10px;width:155.40px;top:1215.15px">自选创元晶</div>
<div class="c s" style="left:415.50px;width:42.90px;top:1215.55px">5</div>
<div class="c n" style="left:458.40px;width:118.50px;top:1215.15px">自选灵言玉</div>
<div class="c" style="left:576.90px;width:42.60px;top:1215.15px"><i>10</i></div>
<div class="c n" style="left:619.50px;width:95.60px;top:1215.15px">翅膀淬炼勋章</div>
<div class="c" style="left:715.10px;width:49.10px;top:1215.15px"><i>1200</i></div>
<div class="c" style="left:764.20px;width:157.30px;top:1215.15px"><i>97</i>号动能核</div>
<div class="c" style="left:921.50px;width:48.90px;top:1215.15px"><i>300</i></div>
<div class="c" style="left:0.50px;width:62.90px;top:1226.94px">累充<i>2000</i></div>
<div class="c" style="left:63.40px;width:154.00px;top:1226.94px"><i>20</i>级宝石任选</div>
<div class="c" style="left:217.40px;width:42.70px;top:1226.94px"><i>1</i></div>
<div class="c n" style="left:260.10px;width:155.40px;top:1226.94px">自选创元晶</div>
<div class="c s" style="left:415.50px;width:42.90px;top:1227.34px">10</div>
<div class="c n" style="left:458.40px;width:118.50px;top:1226.94px">自选灵言玉</div>
<div class="c" style="left:576.90px;width:42.60px;top:1226.94px"><i>20</i></div>
<div class="c n" style="left:619.50px;width:95.60px;top:1226.94px">神兵精铸勋章</div>
<div class="c" style="left:715.10px;width:49.10px;top:1226.94px"><i>2000</i></div>
<div class="c" style="left:764.20px;width:157.30px;top:1226.94px">高级拟态武器组件</div>
<div class="c" style="left:921.50px;width:48.90px;top:1226.94px"><i>500</i></div>
<div class="c" style="left:0.50px;width:62.90px;top:1238.73px">累充<i>5000</i></div>
<div class="c r" style="left:63.40px;width:154.00px;top:1238.73px">绝版线下<i>XR</i>头饰：彩虹温泉（碎片）</div>
<div class="c" style="left:217.40px;width:42.70px;top:1238.73px"><i>80</i></div>
<div class="c n" style="left:260.10px;width:155.40px;top:1238.73px">自选创元晶</div>
<div class="c s" style="left:415.50px;width:42.90px;top:1239.13px">15</div>
<div class="c n" style="left:458.40px;width:118.50px;top:1238.73px">自选灵言玉</div>
<div class="c" style="left:576.90px;width:42.60px;top:1238.73px"><i>30</i></div>
<div class="c n" style="left:619.50px;width:95.60px;top:1238.73px">坐骑驯养勋章</div>
<div class="c" style="left:715.10px;width:49.10px;top:1238.73px"><i>3200</i></div>
<div class="c" style="left:764.20px;width:157.30px;top:1238.73px">高级引擎套件</div>
<div class="c" style="left:921.50px;width:48.90px;top:1238.73px"><i>800</i></div>
<div class="c" style="left:0.50px;width:62.90px;top:1250.52px">累充<i>7000</i></div>
<div class="c r" style="left:63.40px;width:154.00px;top:1250.52px">绝版线下<i>XR</i>服饰：彩虹温泉（碎片）</div>
<div class="c" style="left:217.40px;width:42.70px;top:1250.52px"><i>80</i></div>
<div class="c n" style="left:260.10px;width:155.40px;top:1250.52px">自选创元晶</div>
<div class="c s" style="left:415.50px;width:42.90px;top:1250.92px">20</div>
<div class="c n" style="left:458.40px;width:118.50px;top:1250.52px">自选灵言玉</div>
<div class="c" style="left:576.90px;width:42.60px;top:1250.52px"><i>50</i></div>
<div class="c n" style="left:619.50px;width:95.60px;top:1250.52px">翅膀淬炼勋章</div>
<div class="c" style="left:715.10px;width:49.10px;top:1250.52px"><i>4000</i></div>
<div class="c" style="left:764.20px;width:157.30px;top:1250.52px"><i>97</i>号动能核</div>
<div class="c" style="left:921.50px;width:48.90px;top:1250.52px"><i>1000</i></div>
<div class="c" style="left:0.50px;width:62.90px;top:1262.31px">累充<i>10000</i></div>
<div class="c r" style="left:63.40px;width:154.00px;top:1262.31px">绝版线下<i>XR</i>翅膀：金色传说（碎片）</div>
<div class="c" style="left:217.40px;width:42.70px;top:1262.31px"><i>80</i></div>
<div class="c n" style="left:260.10px;width:155.40px;top:1262.31px">自选创元晶</div>
<div class="c s" style="left:415.50px;width:42.90px;top:1262.71px">25</div>
<div class="c n" style="left:458.40px;width:118.50px;top:1262.31px">自选灵言玉</div>
<div class="c" style="left:576.90px;width:42.60px;top:1262.31px"><i>80</i></div>
<div class="c n" style="left:619.50px;width:95.60px;top:1262.31px">神兵精铸勋章</div>
<div class="c" style="left:715.10px;width:49.10px;top:1262.31px"><i>4800</i></div>
<div class="c" style="left:764.20px;width:157.30px;top:1262.31px">高级拟态武器组件</div>
<div class="c" style="left:921.50px;width:48.90px;top:1262.31px"><i>1200</i></div>
<div class="c" style="left:0.50px;width:62.90px;top:1274.10px">累充<i>20000</i></div>
<div class="c r" style="left:63.40px;width:154.00px;top:1274.10px">绝版线下<i>XR</i>坐骑：机甲巨蝎（碎片）</div>
<div class="c" style="left:217.40px;width:42.70px;top:1274.10px"><i>80</i></div>
<div class="c n" style="left:260.10px;width:155.40px;top:1274.10px">自选创元晶</div>
<div class="c s" style="left:415.50px;width:42.90px;top:1274.50px">30</div>
<div class="c n" style="left:458.40px;width:118.50px;top:1274.10px">自选灵言玉</div>
<div class="c" style="left:576.90px;width:42.60px;top:1274.10px"><i>100</i></div>
<div class="c n" style="left:619.50px;width:95.60px;top:1274.10px">坐骑驯养勋章</div>
<div class="c" style="left:715.10px;width:49.10px;top:1274.10px"><i>6000</i></div>
<div class="c" style="left:764.20px;width:157.30px;top:1274.10px">高级引擎套件</div>
<div class="c" style="left:921.50px;width:48.90px;top:1274.10px"><i>1500</i></div>
<div class="hl" style="top:1120.00px"></div>
<div class="hl" style="top:1137.50px"></div>
<div class="hl" style="top:1149.29px"></div>
<div class="hl" style="top:1161.08px"></div>
<div class="hl" style="top:1172.88px"></div>
<div class="hl" style="top:1184.67px"></div>
<div class="hl" style="top:1196.46px"></div>
<div class="hl" style="top:1208.25px"></div>
<div class="hl" style="top:1220.04px"></div>
<div class="hl" style="top:1231.83px"></div>
<div class="hl" style="top:1243.62px"></div>
<div class="hl" style="top:1255.42px"></div>
<div class="hl" style="top:1267.21px"></div>
<div class="hl" style="top:1279.00px"></div>
<div class="vl" style="left:0.00px;top:1137.70px;height:141.50px"></div>
<div class="vl" style="left:62.90px;top:1137.70px;height:141.50px"></div>
<div class="vl" style="left:216.90px;top:1137.70px;height:141.50px"></div>
<div class="vl" style="left:259.60px;top:1137.70px;height:141.50px"></div>
<div class="vl" style="left:415.00px;top:1137.70px;height:141.50px"></div>
<div class="vl" style="left:457.90px;top:1137.70px;height:141.50px"></div>
<div class="vl" style="left:576.40px;top:1137.70px;height:141.50px"></div>
<div class="vl" style="left:619.00px;top:1137.70px;height:141.50px"></div>
<div class="vl" style="left:714.60px;top:1137.70px;height:141.50px"></div>
<div class="vl" style="left:763.70px;top:1137.70px;height:141.50px"></div>
<div class="vl" style="left:921.00px;top:1137.70px;height:141.50px"></div>
<div class="vl" style="left:969.90px;top:1137.70px;height:141.50px"></div>
<div class="vl" style="left:0px;top:1120.20px;height:17.50px"></div>
<div class="vl" style="left:969.90px;top:1120.20px;height:17.50px"></div>
</div>
</body></html>
